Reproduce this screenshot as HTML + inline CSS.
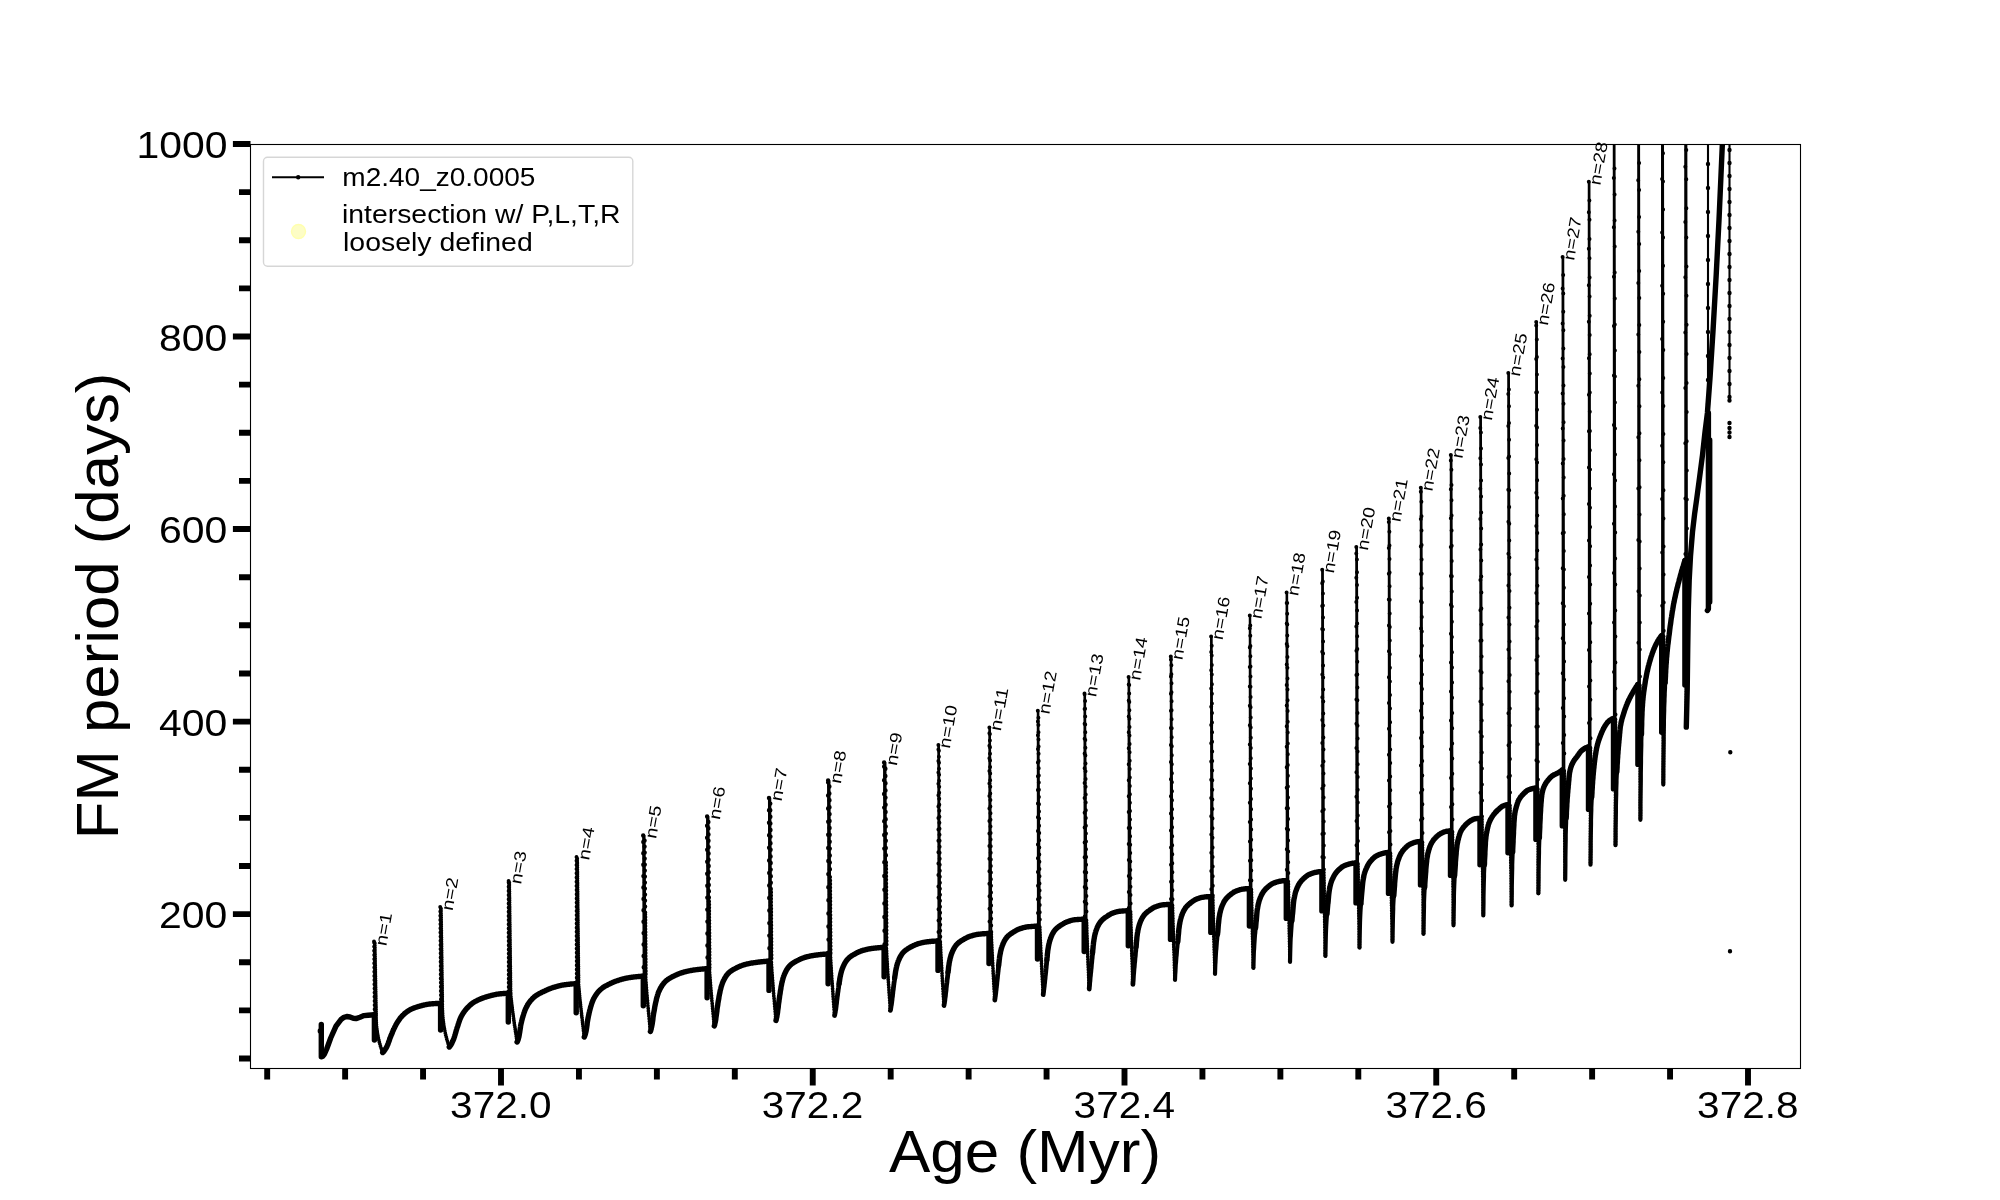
<!DOCTYPE html>
<html><head><meta charset="utf-8"><title>FM period vs Age</title>
<style>html,body{margin:0;padding:0;background:#fff;}body{width:2000px;height:1200px;overflow:hidden;font-family:"Liberation Sans",sans-serif;}</style></head>
<body>
<svg width="2000" height="1200" viewBox="0 0 2000 1200" style="display:block;will-change:transform" font-family="'Liberation Sans', sans-serif" fill="#000">
<rect x="0" y="0" width="2000" height="1200" fill="#fff"/>
<defs><clipPath id="ax"><rect x="250" y="144" width="1550" height="924"/></clipPath></defs>
<g clip-path="url(#ax)" fill="none" stroke="#000" stroke-linejoin="round" stroke-linecap="round">
<g stroke-width="2.1">
<polyline points="374.9,1040.1 374.0,941.5"/>
<polyline points="374.0,941.5 374.7,942.0 376.1,1014.8 376.1,1017.9 376.2,1021.1 376.4,1024.2 376.7,1027.4 377.1,1030.5 377.5,1033.7 378.1,1036.8 378.8,1039.9 379.6,1043.1 380.5,1046.2 381.6,1049.4 382.7,1052.5"/>
<polyline points="441.1,1030.1 440.2,907.0"/>
<polyline points="440.2,907.0 440.9,907.5 442.3,1003.4 442.3,1007.0 442.4,1010.7 442.6,1014.3 442.9,1017.9 443.3,1021.6 443.8,1025.2 444.4,1028.8 445.2,1032.5 446.0,1036.1 447.0,1039.7 448.1,1043.4 449.3,1047.0"/>
<polyline points="508.8,1022.0 508.6,880.9"/>
<polyline points="508.6,880.9 509.2,881.4 510.6,993.3 511.0,997.4 511.4,1001.4 511.9,1005.5 512.4,1009.5 513.0,1013.6 513.5,1017.6 514.1,1021.7 514.7,1025.8 515.3,1029.8 515.9,1033.9 516.5,1037.9 517.1,1042.0"/>
<polyline points="576.8,1012.8 576.5,856.9"/>
<polyline points="576.5,856.9 577.2,857.4 578.5,983.8 578.9,988.2 579.3,992.6 579.7,997.1 580.2,1001.5 580.7,1005.9 581.1,1010.4 581.6,1014.8 582.2,1019.2 582.7,1023.7 583.2,1028.1 583.8,1032.6 584.3,1037.0"/>
<polyline points="643.8,1005.7 643.2,835.5"/>
<polyline points="643.2,835.5 644.5,836.0 645.6,976.2 645.9,980.8 646.2,985.4 646.6,990.0 647.0,994.6 647.4,999.2 647.8,1003.8 648.2,1008.4 648.6,1013.0 649.0,1017.6 649.5,1022.2 649.9,1026.8 650.4,1031.4"/>
<polyline points="707.6,997.8 707.1,816.5"/>
<polyline points="707.1,816.5 708.4,817.0 709.4,968.8 709.7,973.5 710.0,978.3 710.4,983.1 710.8,987.8 711.2,992.6 711.6,997.4 712.0,1002.1 712.5,1006.9 712.9,1011.7 713.4,1016.5 713.8,1021.2 714.3,1026.0"/>
<polyline points="769.5,990.4 769.0,797.9"/>
<polyline points="769.0,797.9 770.2,798.4 771.3,961.2 771.6,966.1 771.9,971.1 772.3,976.0 772.6,981.0 773.0,985.9 773.4,990.9 773.8,995.8 774.2,1000.7 774.7,1005.7 775.1,1010.6 775.6,1015.6 776.0,1020.5"/>
<polyline points="828.6,983.8 828.1,780.5"/>
<polyline points="828.1,780.5 829.4,781.0 830.4,954.0 830.6,959.1 830.9,964.2 831.3,969.4 831.6,974.5 831.9,979.6 832.3,984.8 832.7,989.9 833.0,995.0 833.4,1000.1 833.8,1005.2 834.2,1010.4 834.6,1015.5"/>
<polyline points="884.6,976.8 884.1,762.5"/>
<polyline points="884.1,762.5 885.4,763.0 886.4,947.4 886.6,952.6 886.9,957.9 887.2,963.1 887.5,968.4 887.9,973.6 888.2,978.8 888.6,984.1 888.9,989.3 889.3,994.6 889.6,999.8 890.0,1005.1 890.4,1010.3"/>
<polyline points="938.5,970.4 938.4,744.9"/>
<polyline points="938.4,744.9 938.9,745.4 940.3,941.0 940.5,946.4 940.8,951.8 941.1,957.1 941.3,962.5 941.7,967.9 942.0,973.3 942.3,978.7 942.6,984.1 943.0,989.5 943.3,994.8 943.6,1000.2 944.0,1005.6"/>
<polyline points="989.5,963.6 989.4,727.6"/>
<polyline points="989.4,727.6 989.9,728.1 991.3,933.5 991.5,939.0 991.7,944.6 992.0,950.1 992.3,955.7 992.6,961.2 992.9,966.8 993.2,972.3 993.5,977.8 993.8,983.4 994.1,988.9 994.5,994.5 994.8,1000.0"/>
<polyline points="1038.0,959.1 1037.8,710.8"/>
<polyline points="1037.8,710.8 1038.3,711.3 1039.8,926.2 1040.0,932.0 1040.2,937.7 1040.5,943.4 1040.8,949.1 1041.0,954.8 1041.3,960.5 1041.6,966.2 1041.9,971.9 1042.2,977.6 1042.6,983.3 1042.9,989.0 1043.2,994.7"/>
<polyline points="1084.7,951.6 1084.5,693.4"/>
<polyline points="1084.5,693.4 1085.0,693.9 1086.5,919.3 1086.7,925.1 1086.8,930.9 1087.0,936.7 1087.3,942.5 1087.5,948.3 1087.7,954.1 1088.0,960.0 1088.2,965.8 1088.4,971.6 1088.7,977.4 1088.9,983.2 1089.2,989.0"/>
<polyline points="1128.8,945.7 1128.6,676.9"/>
<polyline points="1128.6,676.9 1129.1,677.4 1130.6,910.8 1130.7,916.9 1130.9,923.1 1131.1,929.2 1131.3,935.3 1131.4,941.5 1131.6,947.6 1131.8,953.7 1132.0,959.9 1132.3,966.0 1132.5,972.1 1132.7,978.3 1132.9,984.4"/>
<polyline points="1171.0,939.4 1170.8,656.4"/>
<polyline points="1170.8,656.4 1171.3,656.9 1172.5,904.4 1172.6,910.7 1172.8,917.0 1173.0,923.3 1173.2,929.6 1173.4,935.9 1173.6,942.1 1173.8,948.4 1174.1,954.7 1174.3,961.0 1174.5,967.3 1174.8,973.6 1175.0,979.9"/>
<polyline points="1211.3,932.4 1211.1,636.4"/>
<polyline points="1211.1,636.4 1211.6,636.9 1212.8,896.6 1212.9,903.0 1213.1,909.5 1213.2,915.9 1213.4,922.4 1213.6,928.8 1213.8,935.2 1214.0,941.7 1214.2,948.1 1214.4,954.6 1214.6,961.0 1214.8,967.5 1215.0,973.9"/>
<polyline points="1249.9,926.1 1249.8,615.6"/>
<polyline points="1249.8,615.6 1250.2,616.1 1251.4,888.6 1251.5,895.2 1251.7,901.8 1251.8,908.4 1252.0,915.0 1252.1,921.6 1252.3,928.2 1252.5,934.9 1252.7,941.5 1252.8,948.1 1253.0,954.7 1253.2,961.3 1253.4,967.9"/>
<polyline points="1286.8,918.4 1286.6,592.4"/>
<polyline points="1286.6,592.4 1287.1,592.9 1288.3,880.6 1288.4,887.4 1288.5,894.1 1288.6,900.9 1288.8,907.7 1288.9,914.5 1289.1,921.2 1289.2,928.0 1289.4,934.8 1289.5,941.6 1289.7,948.4 1289.8,955.1 1290.0,961.9"/>
<polyline points="1322.4,910.9 1322.2,569.7"/>
<polyline points="1322.2,569.7 1322.8,570.2 1323.9,871.6 1324.0,878.6 1324.1,885.6 1324.2,892.7 1324.3,899.7 1324.4,906.7 1324.6,913.8 1324.7,920.8 1324.8,927.8 1325.0,934.8 1325.1,941.9 1325.3,948.9 1325.4,955.9"/>
<polyline points="1356.5,902.9 1356.3,546.9"/>
<polyline points="1356.3,546.9 1356.9,547.4 1358.0,863.0 1358.1,870.0 1358.2,877.1 1358.3,884.1 1358.4,891.2 1358.5,898.2 1358.7,905.3 1358.8,912.4 1358.9,919.4 1359.1,926.5 1359.2,933.5 1359.4,940.5 1359.5,947.6"/>
<polyline points="1389.0,893.4 1388.8,518.5"/>
<polyline points="1388.8,518.5 1389.4,519.0 1390.5,852.5 1390.6,859.9 1390.8,867.4 1390.9,874.8 1391.1,882.3 1391.2,889.7 1391.4,897.1 1391.6,904.6 1391.8,912.0 1391.9,919.5 1392.1,926.9 1392.3,934.4 1392.5,941.8"/>
<polyline points="1421.0,884.9 1420.8,487.7"/>
<polyline points="1420.8,487.7 1421.4,488.2 1422.5,841.5 1422.6,849.2 1422.6,856.9 1422.7,864.6 1422.8,872.3 1422.9,880.0 1423.0,887.6 1423.0,895.3 1423.1,903.0 1423.2,910.7 1423.3,918.4 1423.4,926.1 1423.5,933.8"/>
<polyline points="1451.0,875.4 1450.8,454.9"/>
<polyline points="1450.8,454.9 1451.4,455.4 1452.5,831.0 1452.6,838.9 1452.6,846.7 1452.7,854.6 1452.8,862.4 1452.9,870.3 1453.0,878.1 1453.0,886.0 1453.1,893.9 1453.2,901.7 1453.3,909.6 1453.4,917.4 1453.5,925.3"/>
<polyline points="1480.5,864.7 1480.3,416.9"/>
<polyline points="1480.3,416.9 1480.9,417.4 1482.0,818.4 1482.1,826.5 1482.2,834.6 1482.3,842.7 1482.4,850.8 1482.5,858.9 1482.6,867.0 1482.7,875.0 1482.8,883.1 1482.9,891.2 1483.1,899.3 1483.2,907.4 1483.3,915.5"/>
<polyline points="1508.5,852.7 1508.3,372.9"/>
<polyline points="1508.3,372.9 1508.9,373.4 1510.0,804.6 1510.1,813.0 1510.2,821.4 1510.3,829.8 1510.5,838.2 1510.6,846.6 1510.7,855.0 1510.9,863.5 1511.0,871.9 1511.1,880.3 1511.3,888.7 1511.4,897.1 1511.6,905.5"/>
<polyline points="1536.4,839.4 1536.2,322.1"/>
<polyline points="1536.2,322.1 1536.8,322.6 1537.9,788.2 1537.9,797.0 1538.0,805.7 1538.0,814.5 1538.0,823.2 1538.1,832.0 1538.1,840.8 1538.2,849.5 1538.2,858.3 1538.3,867.0 1538.3,875.8 1538.4,884.5 1538.4,893.3"/>
<polyline points="1562.8,825.9 1562.6,256.9"/>
<polyline points="1562.6,256.9 1563.2,257.4 1564.3,770.0 1564.4,779.1 1564.4,788.3 1564.5,797.5 1564.6,806.6 1564.6,815.8 1564.7,824.9 1564.8,834.0 1564.9,843.2 1564.9,852.3 1565.0,861.5 1565.1,870.6 1565.2,879.8"/>
<polyline points="1589.0,809.4 1588.8,181.7"/>
<polyline points="1588.8,181.7 1589.4,182.2 1590.5,747.0 1590.5,756.8 1590.5,766.6 1590.5,776.4 1590.5,786.2 1590.5,796.0 1590.5,805.9 1590.5,815.7 1590.5,825.5 1590.5,835.3 1590.5,845.1 1590.5,854.9 1590.5,864.7"/>
<polyline points="1614.0,788.9 1613.8,90.9"/>
<polyline points="1613.8,90.9 1614.4,91.4 1615.5,718.5 1615.5,729.1 1615.5,739.6 1615.5,750.2 1615.5,760.7 1615.5,771.3 1615.5,781.9 1615.5,792.4 1615.5,803.0 1615.5,813.5 1615.5,824.1 1615.5,834.6 1615.5,845.2"/>
<polyline points="1638.4,764.4 1638.2,0.9"/>
<polyline points="1638.2,0.9 1638.8,1.4 1639.9,684.5 1639.9,695.8 1640.0,707.0 1640.0,718.3 1640.0,729.6 1640.1,740.9 1640.1,752.1 1640.2,763.4 1640.2,774.7 1640.3,786.0 1640.3,797.2 1640.4,808.5 1640.4,819.8"/>
<polyline points="1662.2,732.2 1662.0,-99.1"/>
<polyline points="1662.0,-99.1 1662.6,-98.6 1663.7,635.6 1663.7,648.0 1663.6,660.4 1663.6,672.9 1663.6,685.3 1663.6,697.7 1663.5,710.1 1663.5,722.5 1663.4,734.9 1663.4,747.4 1663.4,759.8 1663.3,772.2 1663.3,784.6"/>
<polyline points="1685.4,685.0 1685.2,-199.1"/>
<polyline points="1685.2,-199.1 1685.8,-198.6 1686.9,560.6 1686.9,574.5 1686.8,588.4 1686.8,602.2 1686.7,616.1 1686.7,630.0 1686.6,643.9 1686.6,657.7 1686.5,671.6 1686.5,685.5 1686.4,699.4 1686.4,713.2 1686.3,727.1"/>
<polyline points="1708.0,413.0 1708.0,120.0"/>
<polyline points="1729.5,120.0 1729.5,400.5"/>
</g>
<g stroke-width="4.8">
<polyline points="834.6,1015.5 834.8,1014.7 834.9,1013.9 835.1,1013.0 835.3,1012.1 835.4,1011.1 835.6,1010.1 835.8,1009.1 835.9,1008.0 836.1,1006.7 836.2,1005.4 836.4,1004.1 836.6,1002.7 836.7,1001.3 836.9,999.8 837.1,998.4 837.2,997.1 837.4,995.8 837.6,994.6 837.7,993.3 837.9,992.1 838.1,990.9 838.2,989.7 838.4,988.5 838.6,987.3 838.7,986.1 838.9,984.9 839.1,983.8"/>
<polyline points="890.4,1010.3 890.6,1009.4 890.7,1008.6 890.9,1007.6 891.0,1006.6 891.2,1005.6 891.4,1004.6 891.5,1003.5 891.7,1002.4 891.8,1001.2 892.0,999.9 892.1,998.5 892.3,997.2 892.5,995.8 892.6,994.4 892.8,993.1 892.9,991.7 893.1,990.4 893.3,989.2 893.4,987.9 893.6,986.7 893.7,985.5 893.9,984.2 894.0,983.0 894.2,981.8 894.4,980.5 894.5,979.3 894.7,978.0"/>
<polyline points="944.0,1005.6 944.1,1004.6 944.3,1003.7 944.5,1002.6 944.6,1001.6 944.8,1000.5 944.9,999.4 945.0,998.3 945.2,997.1 945.4,995.9 945.5,994.6 945.6,993.3 945.8,991.9 946.0,990.5 946.1,989.2 946.2,987.8 946.4,986.4 946.5,985.1 946.7,983.8 946.9,982.5 947.0,981.3 947.1,980.0 947.3,978.7 947.5,977.4 947.6,976.1 947.8,974.8 947.9,973.4 948.0,972.1"/>
<polyline points="994.8,1000.0 994.9,999.0 995.1,997.9 995.2,996.8 995.4,995.7 995.5,994.6 995.7,993.4 995.8,992.2 995.9,991.0 996.1,989.8 996.2,988.5 996.4,987.2 996.5,985.9 996.7,984.6 996.8,983.3 996.9,981.9 997.1,980.6 997.2,979.3 997.4,977.9 997.5,976.6 997.6,975.3 997.8,974.0 997.9,972.7 998.1,971.4 998.2,970.0 998.4,968.6 998.5,967.2 998.6,965.8"/>
<polyline points="1043.2,994.7 1043.3,993.6 1043.5,992.4 1043.6,991.2 1043.7,990.1 1043.9,988.9 1044.0,987.7 1044.2,986.5 1044.3,985.3 1044.4,984.0 1044.6,982.8 1044.7,981.5 1044.8,980.3 1045.0,979.0 1045.1,977.7 1045.2,976.3 1045.4,975.0 1045.5,973.7 1045.7,972.3 1045.8,971.0 1045.9,969.7 1046.1,968.3 1046.2,967.0 1046.3,965.6 1046.5,964.2 1046.6,962.8 1046.8,961.3 1046.9,959.8"/>
<polyline points="1089.2,989.0 1089.3,987.4 1089.5,985.8 1089.6,984.2 1089.7,982.7 1089.9,981.2 1090.0,979.8 1090.1,978.4 1090.2,977.1 1090.4,975.7 1090.5,974.4 1090.6,973.1 1090.8,971.8 1090.9,970.5 1091.0,969.2 1091.2,967.8 1091.3,966.5 1091.4,965.1 1091.5,963.8 1091.7,962.4 1091.8,961.1 1091.9,959.7 1092.1,958.4 1092.2,957.1 1092.3,955.7 1092.5,954.2 1092.6,952.8"/>
<polyline points="1132.9,984.4 1133.0,982.3 1133.2,980.2 1133.3,978.2 1133.4,976.3 1133.5,974.6 1133.7,972.9 1133.8,971.4 1133.9,970.0 1134.0,968.6 1134.2,967.2 1134.3,965.9 1134.4,964.6 1134.5,963.2 1134.7,961.9 1134.8,960.6 1134.9,959.2 1135.0,957.9 1135.2,956.5 1135.3,955.2 1135.4,953.8 1135.5,952.5 1135.7,951.2 1135.8,949.9 1135.9,948.6 1136.0,947.2"/>
</g>
<g stroke-width="4.2">
<polyline points="1175.0,979.9 1175.1,977.3 1175.2,974.7 1175.4,972.2 1175.5,969.9 1175.6,967.8 1175.7,965.9 1175.8,964.2 1176.0,962.6 1176.1,961.1 1176.2,959.7 1176.3,958.3 1176.4,956.9 1176.6,955.5 1176.7,954.2 1176.8,952.8 1176.9,951.4 1177.0,950.0 1177.1,948.7 1177.3,947.3 1177.4,946.0 1177.5,944.7 1177.6,943.4 1177.7,942.1"/>
<polyline points="1215.0,973.9 1215.1,970.7 1215.2,967.6 1215.3,964.7 1215.5,962.0 1215.6,959.5 1215.7,957.4 1215.8,955.6 1215.9,953.9 1216.0,952.3 1216.1,950.8 1216.3,949.3 1216.4,947.9 1216.5,946.5 1216.6,945.2 1216.7,943.8 1216.8,942.4 1216.9,941.1 1217.1,939.7 1217.2,938.4 1217.3,937.1 1217.4,935.8 1217.5,934.5"/>
<polyline points="1253.4,967.9 1253.5,964.2 1253.6,960.5 1253.7,957.1 1253.8,954.0 1253.9,951.2 1254.1,948.8 1254.2,946.8 1254.3,945.0 1254.4,943.3 1254.5,941.8 1254.6,940.3 1254.7,938.8 1254.8,937.4 1254.9,936.1 1255.0,934.7 1255.2,933.3 1255.3,932.0 1255.4,930.6 1255.5,929.3 1255.6,928.0"/>
<polyline points="1290.0,961.9 1290.1,957.5 1290.2,953.3 1290.3,949.3 1290.4,945.7 1290.5,942.5 1290.6,939.9 1290.7,937.7 1290.9,935.8 1291.0,934.0 1291.1,932.3 1291.2,930.8 1291.3,929.3 1291.4,927.9 1291.5,926.5 1291.6,925.1 1291.7,923.7 1291.8,922.3 1291.9,921.0"/>
<polyline points="1325.4,955.9 1325.5,950.9 1325.6,946.0 1325.7,941.5 1325.8,937.4 1325.9,933.8 1326.0,930.9 1326.1,928.6 1326.2,926.5 1326.3,924.6 1326.4,922.8 1326.5,921.2 1326.6,919.7 1326.7,918.3 1326.8,916.9 1326.9,915.5 1327.0,914.1"/>
<polyline points="1359.5,947.6 1359.6,941.9 1359.7,936.5 1359.8,931.4 1359.9,926.8 1360.0,922.8 1360.1,919.6 1360.2,917.1 1360.3,914.9 1360.4,912.9 1360.5,911.0 1360.6,909.4 1360.7,907.9 1360.8,906.4 1360.9,905.0 1361.0,903.6"/>
<polyline points="1392.5,941.8 1392.6,935.8 1392.7,930.0 1392.8,924.6 1392.9,919.7 1393.0,915.5 1393.1,911.9 1393.2,909.1 1393.2,906.7 1393.3,904.5 1393.4,902.5 1393.5,900.7 1393.6,899.0 1393.7,897.4 1393.8,895.9"/>
<polyline points="1423.5,933.8 1423.6,927.7 1423.7,921.7 1423.8,916.2 1423.9,911.1 1424.0,906.6 1424.0,902.8 1424.1,899.8 1424.2,897.2 1424.3,894.9 1424.4,892.7 1424.5,890.8 1424.6,889.0 1424.7,887.3"/>
<polyline points="1453.5,925.3 1453.6,918.9 1453.7,912.7 1453.8,906.9 1453.9,901.5 1453.9,896.7 1454.0,892.7 1454.1,889.4 1454.2,886.6 1454.3,884.1 1454.4,881.8 1454.5,879.7 1454.6,877.7 1454.6,875.9"/>
<polyline points="1483.3,915.5 1483.4,909.3 1483.5,903.3 1483.5,897.6 1483.6,892.3 1483.7,887.5 1483.8,883.3 1483.9,879.6 1484.0,876.6 1484.0,873.8 1484.1,871.3 1484.2,869.0 1484.3,866.9 1484.4,864.9"/>
<polyline points="1511.6,905.5 1511.7,899.2 1511.8,893.1 1511.8,887.2 1511.9,881.7 1512.0,876.6 1512.1,872.1 1512.2,868.2 1512.2,864.9 1512.3,861.8 1512.4,859.0 1512.5,856.4 1512.6,854.0 1512.7,851.7"/>
<polyline points="1538.4,893.3 1538.5,886.4 1538.6,879.7 1538.6,873.3 1538.7,867.3 1538.8,861.8 1538.9,856.9 1539.0,852.6 1539.0,849.0 1539.1,845.8 1539.2,842.8 1539.3,840.1 1539.4,837.6"/>
<polyline points="1565.2,879.8 1565.3,872.2 1565.4,864.8 1565.4,857.7 1565.5,851.0 1565.6,845.0 1565.7,839.6 1565.7,835.0 1565.8,831.4 1565.9,828.3 1566.0,825.4 1566.1,822.8 1566.1,820.4 1566.2,818.1"/>
<polyline points="1590.5,864.7 1590.6,857.1 1590.7,849.7 1590.7,842.6 1590.8,835.9 1590.9,829.8 1591.0,824.5 1591.0,819.9 1591.1,816.2 1591.2,813.2 1591.3,810.3 1591.3,807.7 1591.4,805.3 1591.5,803.1 1591.6,801.1 1591.7,799.2 1591.7,797.4"/>
<polyline points="1615.5,845.2 1615.6,838.0 1615.6,830.9 1615.7,824.1 1615.8,817.7 1615.9,811.8 1615.9,806.4 1616.0,801.6 1616.1,797.6 1616.2,794.2 1616.2,791.0 1616.3,788.1 1616.4,785.3 1616.5,782.7 1616.5,780.2 1616.6,778.0 1616.7,775.9 1616.8,773.9 1616.8,772.1"/>
<polyline points="1640.4,819.8 1640.5,811.5 1640.5,803.4 1640.6,795.4 1640.7,787.8 1640.8,780.7 1640.8,774.0 1640.9,767.9 1641.0,762.5 1641.0,757.9 1641.1,753.5 1641.2,749.3 1641.3,745.3 1641.3,741.3 1641.4,737.6 1641.5,734.0"/>
<polyline points="1663.3,784.6 1663.4,775.4 1663.4,766.5 1663.5,757.9 1663.6,749.7 1663.7,742.2 1663.7,735.4 1663.8,729.4 1663.9,724.4 1663.9,720.4 1664.0,717.0 1664.1,713.7 1664.2,710.8 1664.2,708.1 1664.3,705.6 1664.4,703.2 1664.5,701.1 1664.5,699.0 1664.6,697.1 1664.7,695.2 1664.7,693.3 1664.8,691.5 1664.9,689.7 1665.0,687.9 1665.0,686.1 1665.1,684.3 1665.2,682.6"/>
</g>
<g stroke-width="5.4">
<polyline points="321.3,1024.5 321.3,1056.8 322.5,1056.5 324.5,1054.0 326.7,1049.0 330.7,1038.0 336.0,1026.2 341.3,1019.2 344.0,1017.3 346.7,1016.5 350.0,1017.0 353.3,1018.3 356.0,1018.6 360.0,1017.2 364.0,1015.6 368.0,1015.2 374.4,1014.8"/>
<polyline points="320.3,1031.0 321.3,1031.0"/>
<polyline points="374.4,1014.8 374.4,1040.1"/>
<polyline points="382.7,1052.5 382.9,1052.3 383.1,1052.2 383.3,1052.0 383.5,1051.8 383.7,1051.5 383.9,1051.3 384.1,1051.1 384.2,1050.8 384.4,1050.6 384.6,1050.3 384.8,1050.0 385.0,1049.7 385.2,1049.4 385.4,1049.1 385.6,1048.8 385.8,1048.5 386.0,1048.2 386.2,1047.8 386.4,1047.5 386.6,1047.1 386.8,1046.8 386.9,1046.4 387.1,1046.0 387.3,1045.6 387.5,1045.1 387.7,1044.7 387.9,1044.2 388.1,1043.7 388.3,1043.1 388.5,1042.6 388.7,1042.1 388.9,1041.5 389.1,1041.0 389.3,1040.4 389.5,1039.9 389.6,1039.3 389.8,1038.8 390.0,1038.2 390.2,1037.7 390.4,1037.2 390.6,1036.7 390.8,1036.2 391.0,1035.8 391.2,1035.3 391.4,1034.8 391.6,1034.4 391.8,1033.9 392.0,1033.4 392.2,1033.0 392.4,1032.5 392.5,1032.0 392.7,1031.6 392.9,1031.1 393.1,1030.7 393.3,1030.2 393.5,1029.8 393.7,1029.3 393.9,1028.9 394.1,1028.5 394.3,1028.1 394.9,1026.8 395.5,1025.7 396.0,1024.6 396.6,1023.6 397.2,1022.6 397.8,1021.7 398.4,1020.8 399.0,1019.9 399.6,1019.1 400.1,1018.3 400.7,1017.6 401.3,1016.9 401.9,1016.2 402.5,1015.6 403.1,1015.0 403.7,1014.5 404.2,1013.9 404.8,1013.4 405.4,1012.9 406.0,1012.5 406.6,1012.0 407.2,1011.6 407.8,1011.2 408.4,1010.8 408.9,1010.4 409.5,1010.1 410.1,1009.7 410.7,1009.4 411.3,1009.2 411.9,1008.9 412.5,1008.6 413.0,1008.4 413.6,1008.1 414.2,1007.9 414.8,1007.7 415.4,1007.5 416.0,1007.3 416.6,1007.1 417.1,1006.9 417.7,1006.7 418.3,1006.5 418.9,1006.4 419.5,1006.2 420.1,1006.0 420.7,1005.9 421.3,1005.7 421.8,1005.6 422.4,1005.4 423.0,1005.3 423.6,1005.1 424.2,1005.0 424.8,1004.8 425.4,1004.7 425.9,1004.6 426.5,1004.5 427.1,1004.4 427.7,1004.3 428.3,1004.2 428.9,1004.1 429.5,1004.0 430.0,1004.0 430.6,1003.9 431.2,1003.9 431.8,1003.8 432.4,1003.8 433.0,1003.7 433.6,1003.7 434.2,1003.6 434.7,1003.6 435.3,1003.6 435.9,1003.5 436.5,1003.5 437.1,1003.5 437.7,1003.5 438.3,1003.4 438.8,1003.4 439.4,1003.4 440.0,1003.4 440.6,1003.4"/>
<polyline points="440.6,1003.4 440.6,1030.1"/>
<polyline points="449.3,1047.0 449.5,1046.8 449.7,1046.6 449.9,1046.3 450.1,1046.1 450.3,1045.8 450.5,1045.5 450.7,1045.2 450.9,1044.9 451.1,1044.5 451.3,1044.2 451.5,1043.8 451.7,1043.5 451.9,1043.1 452.1,1042.7 452.2,1042.3 452.4,1041.9 452.6,1041.5 452.8,1041.0 453.0,1040.6 453.2,1040.2 453.4,1039.7 453.6,1039.2 453.8,1038.7 454.0,1038.1 454.2,1037.5 454.4,1036.9 454.6,1036.3 454.8,1035.6 455.0,1034.9 455.2,1034.3 455.4,1033.6 455.6,1032.9 455.8,1032.2 456.0,1031.5 456.2,1030.8 456.4,1030.1 456.6,1029.4 456.8,1028.8 457.0,1028.1 457.2,1027.5 457.4,1026.9 457.6,1026.4 457.8,1025.8 458.0,1025.2 458.2,1024.6 458.3,1024.0 458.5,1023.4 458.7,1022.9 458.9,1022.3 459.1,1021.7 459.3,1021.2 459.5,1020.6 459.7,1020.1 459.9,1019.6 460.1,1019.1 460.3,1018.6 460.5,1018.1 460.7,1017.6 460.9,1017.2 461.1,1016.8 461.7,1015.6 462.3,1014.6 462.9,1013.6 463.5,1012.7 464.1,1011.8 464.7,1011.0 465.3,1010.2 465.9,1009.5 466.5,1008.8 467.1,1008.1 467.7,1007.5 468.3,1006.9 468.9,1006.3 469.5,1005.7 470.1,1005.1 470.7,1004.6 471.3,1004.1 471.9,1003.6 472.5,1003.2 473.0,1002.8 473.6,1002.4 474.2,1002.1 474.8,1001.7 475.4,1001.4 476.0,1001.1 476.6,1000.8 477.2,1000.4 477.8,1000.2 478.4,999.9 479.0,999.6 479.6,999.3 480.2,999.1 480.8,998.8 481.4,998.6 482.0,998.3 482.6,998.1 483.2,997.9 483.8,997.7 484.4,997.5 485.0,997.3 485.6,997.1 486.2,996.9 486.8,996.7 487.4,996.5 488.0,996.4 488.6,996.2 489.2,996.0 489.8,995.9 490.4,995.7 491.0,995.5 491.6,995.4 492.2,995.2 492.8,995.1 493.4,995.0 494.0,994.8 494.6,994.7 495.2,994.6 495.8,994.5 496.4,994.3 496.9,994.2 497.5,994.1 498.1,994.1 498.7,994.0 499.3,993.9 499.9,993.8 500.5,993.8 501.1,993.7 501.7,993.7 502.3,993.6 502.9,993.6 503.5,993.5 504.1,993.5 504.7,993.4 505.3,993.4 505.9,993.4 506.5,993.3 507.1,993.3 507.7,993.3 508.3,993.3"/>
<polyline points="508.3,993.3 508.3,1022.0"/>
<polyline points="517.1,1042.0 517.3,1041.7 517.5,1041.3 517.7,1040.8 517.9,1040.2 518.1,1039.7 518.3,1039.0 518.5,1038.3 518.7,1037.6 518.9,1036.8 519.1,1035.8 519.3,1034.6 519.5,1033.4 519.7,1032.2 519.9,1030.9 520.1,1029.6 520.3,1028.3 520.5,1027.1 520.6,1026.0 520.8,1025.0 521.0,1024.0 521.2,1023.1 521.4,1022.3 521.6,1021.4 521.8,1020.6 522.0,1019.8 522.2,1019.0 522.4,1018.3 522.6,1017.6 522.8,1016.9 523.0,1016.2 523.2,1015.6 523.4,1014.9 523.6,1014.3 523.8,1013.6 524.0,1013.0 524.2,1012.4 524.4,1011.9 524.6,1011.3 524.8,1010.7 525.0,1010.2 525.2,1009.7 525.4,1009.2 525.6,1008.8 525.8,1008.4 526.0,1008.0 526.2,1007.6 526.4,1007.2 526.6,1006.8 526.8,1006.5 527.0,1006.1 527.2,1005.7 527.4,1005.4 527.5,1005.1 527.7,1004.8 527.9,1004.4 528.1,1004.1 528.3,1003.8 528.5,1003.5 528.7,1003.2 528.9,1002.9 529.5,1002.1 530.1,1001.3 530.7,1000.6 531.3,999.9 531.9,999.3 532.5,998.6 533.1,998.0 533.7,997.5 534.3,996.9 534.9,996.4 535.5,996.0 536.1,995.6 536.7,995.2 537.3,994.8 537.9,994.4 538.5,994.1 539.1,993.7 539.7,993.4 540.3,993.1 540.9,992.8 541.5,992.5 542.1,992.2 542.7,991.9 543.3,991.6 543.9,991.4 544.5,991.1 545.1,990.8 545.7,990.5 546.3,990.2 546.9,990.0 547.5,989.7 548.1,989.4 548.7,989.2 549.3,988.9 549.9,988.7 550.5,988.5 551.1,988.2 551.7,988.0 552.3,987.8 552.9,987.6 553.5,987.4 554.1,987.2 554.7,987.1 555.3,986.9 555.9,986.7 556.5,986.5 557.1,986.4 557.7,986.2 558.3,986.0 558.9,985.9 559.5,985.7 560.1,985.6 560.7,985.5 561.3,985.3 561.9,985.2 562.5,985.1 563.1,985.0 563.7,984.9 564.3,984.8 564.9,984.8 565.5,984.7 566.1,984.6 566.7,984.5 567.3,984.4 567.9,984.4 568.5,984.3 569.1,984.2 569.7,984.2 570.3,984.1 570.9,984.0 571.5,984.0 572.1,983.9 572.7,983.9 573.3,983.9 573.9,983.8 574.5,983.8 575.1,983.8 575.7,983.8 576.2,983.8"/>
<polyline points="576.2,983.8 576.2,1012.8"/>
<polyline points="584.3,1037.0 584.5,1036.6 584.7,1036.1 584.9,1035.5 585.1,1034.9 585.3,1034.2 585.5,1033.5 585.7,1032.7 585.9,1031.9 586.1,1030.9 586.3,1029.8 586.5,1028.5 586.7,1027.3 586.9,1025.9 587.1,1024.6 587.2,1023.2 587.4,1021.9 587.6,1020.7 587.8,1019.5 588.0,1018.4 588.2,1017.4 588.4,1016.5 588.6,1015.5 588.8,1014.6 589.0,1013.6 589.2,1012.7 589.4,1011.9 589.6,1011.0 589.8,1010.2 590.0,1009.5 590.2,1008.7 590.4,1008.0 590.6,1007.3 590.8,1006.6 591.0,1005.9 591.2,1005.3 591.4,1004.6 591.6,1004.0 591.8,1003.4 592.0,1002.8 592.2,1002.3 592.4,1001.7 592.6,1001.2 592.8,1000.7 593.0,1000.3 593.1,999.9 593.3,999.4 593.5,999.1 593.7,998.7 593.9,998.3 594.1,997.9 594.3,997.6 594.5,997.2 594.7,996.9 594.9,996.5 595.1,996.2 595.3,995.9 595.5,995.6 595.7,995.3 595.9,995.0 596.1,994.7 596.7,993.8 597.3,993.0 597.9,992.3 598.5,991.6 599.1,990.9 599.7,990.3 600.3,989.7 600.9,989.2 601.5,988.7 602.1,988.2 602.7,987.7 603.3,987.3 603.9,987.0 604.5,986.6 605.1,986.2 605.7,985.9 606.3,985.6 606.9,985.3 607.5,985.0 608.0,984.7 608.6,984.4 609.2,984.1 609.8,983.8 610.4,983.5 611.0,983.2 611.6,983.0 612.2,982.7 612.8,982.4 613.4,982.2 614.0,981.9 614.6,981.7 615.2,981.4 615.8,981.2 616.4,981.0 617.0,980.8 617.6,980.6 618.2,980.4 618.8,980.2 619.4,980.0 620.0,979.8 620.6,979.6 621.2,979.5 621.8,979.3 622.4,979.1 623.0,979.0 623.6,978.8 624.2,978.7 624.8,978.5 625.4,978.4 626.0,978.2 626.6,978.1 627.2,978.0 627.8,977.9 628.4,977.8 629.0,977.7 629.6,977.6 630.2,977.5 630.8,977.4 631.4,977.3 631.9,977.2 632.5,977.2 633.1,977.1 633.7,977.0 634.3,976.9 634.9,976.9 635.5,976.8 636.1,976.7 636.7,976.7 637.3,976.6 637.9,976.6 638.5,976.5 639.1,976.5 639.7,976.4 640.3,976.4 640.9,976.3 641.5,976.3 642.1,976.3 642.7,976.3 643.3,976.2"/>
<polyline points="643.3,976.2 643.3,1005.7"/>
<polyline points="650.4,1031.4 650.6,1030.9 650.8,1030.3 651.0,1029.6 651.2,1028.9 651.3,1028.2 651.5,1027.3 651.7,1026.5 651.9,1025.5 652.1,1024.4 652.3,1023.2 652.5,1021.9 652.7,1020.5 652.9,1019.1 653.0,1017.7 653.2,1016.3 653.4,1015.0 653.6,1013.7 653.8,1012.6 654.0,1011.5 654.2,1010.4 654.4,1009.3 654.6,1008.3 654.7,1007.2 654.9,1006.2 655.1,1005.3 655.3,1004.3 655.5,1003.4 655.7,1002.5 655.9,1001.6 656.1,1000.8 656.3,1000.0 656.4,999.2 656.6,998.5 656.8,997.8 657.0,997.1 657.2,996.4 657.4,995.8 657.6,995.1 657.8,994.5 658.0,993.9 658.1,993.4 658.3,992.8 658.5,992.3 658.7,991.9 658.9,991.4 659.1,991.0 659.3,990.6 659.5,990.2 659.7,989.8 659.9,989.4 660.0,989.0 660.2,988.7 660.4,988.3 660.6,988.0 660.8,987.6 661.0,987.3 661.2,987.0 661.4,986.7 661.6,986.4 661.7,986.1 662.3,985.2 662.9,984.4 663.5,983.6 664.0,982.9 664.6,982.3 665.2,981.7 665.8,981.1 666.3,980.6 666.9,980.2 667.5,979.7 668.1,979.3 668.6,978.9 669.2,978.6 669.8,978.2 670.4,977.9 670.9,977.6 671.5,977.2 672.1,976.9 672.6,976.6 673.2,976.4 673.8,976.1 674.4,975.8 674.9,975.5 675.5,975.2 676.1,975.0 676.7,974.7 677.2,974.5 677.8,974.2 678.4,974.0 679.0,973.7 679.5,973.5 680.1,973.3 680.7,973.1 681.3,972.9 681.8,972.7 682.4,972.6 683.0,972.4 683.6,972.2 684.1,972.0 684.7,971.9 685.3,971.7 685.9,971.6 686.4,971.5 687.0,971.3 687.6,971.2 688.2,971.1 688.7,970.9 689.3,970.8 689.9,970.7 690.4,970.6 691.0,970.5 691.6,970.4 692.2,970.3 692.7,970.2 693.3,970.1 693.9,970.0 694.5,969.9 695.0,969.9 695.6,969.8 696.2,969.7 696.8,969.6 697.3,969.6 697.9,969.5 698.5,969.4 699.1,969.4 699.6,969.3 700.2,969.2 700.8,969.2 701.4,969.1 701.9,969.1 702.5,969.0 703.1,969.0 703.7,968.9 704.2,968.9 704.8,968.8 705.4,968.8 706.0,968.8 706.5,968.8 707.1,968.8"/>
<polyline points="707.1,968.8 707.1,997.8"/>
<polyline points="714.3,1026.0 714.5,1025.4 714.7,1024.7 714.8,1024.0 715.0,1023.1 715.2,1022.3 715.4,1021.4 715.6,1020.4 715.8,1019.3 715.9,1018.1 716.1,1016.7 716.3,1015.3 716.5,1013.9 716.7,1012.4 716.9,1011.0 717.0,1009.5 717.2,1008.2 717.4,1006.9 717.6,1005.7 717.8,1004.5 717.9,1003.4 718.1,1002.2 718.3,1001.1 718.5,1000.0 718.7,998.9 718.9,997.8 719.0,996.7 719.2,995.7 719.4,994.7 719.6,993.7 719.8,992.8 720.0,991.9 720.1,991.1 720.3,990.3 720.5,989.6 720.7,988.9 720.9,988.1 721.0,987.5 721.2,986.8 721.4,986.2 721.6,985.6 721.8,985.0 722.0,984.4 722.1,983.9 722.3,983.4 722.5,982.9 722.7,982.4 722.9,982.0 723.1,981.6 723.2,981.2 723.4,980.8 723.6,980.4 723.8,980.1 724.0,979.7 724.1,979.4 724.3,979.0 724.5,978.7 724.7,978.3 724.9,978.0 725.1,977.7 725.2,977.4 725.8,976.5 726.3,975.7 726.9,974.9 727.5,974.2 728.0,973.6 728.6,973.0 729.1,972.5 729.7,972.0 730.2,971.6 730.8,971.2 731.3,970.8 731.9,970.4 732.4,970.1 733.0,969.7 733.5,969.4 734.1,969.1 734.7,968.8 735.2,968.5 735.8,968.3 736.3,968.0 736.9,967.7 737.4,967.4 738.0,967.1 738.5,966.9 739.1,966.6 739.6,966.4 740.2,966.2 740.7,965.9 741.3,965.7 741.9,965.5 742.4,965.3 743.0,965.1 743.5,964.9 744.1,964.8 744.6,964.6 745.2,964.5 745.7,964.3 746.3,964.2 746.8,964.0 747.4,963.9 748.0,963.8 748.5,963.7 749.1,963.6 749.6,963.4 750.2,963.3 750.7,963.2 751.3,963.1 751.8,963.0 752.4,963.0 752.9,962.9 753.5,962.8 754.0,962.7 754.6,962.6 755.2,962.6 755.7,962.5 756.3,962.4 756.8,962.3 757.4,962.3 757.9,962.2 758.5,962.1 759.0,962.0 759.6,962.0 760.1,961.9 760.7,961.8 761.2,961.8 761.8,961.7 762.4,961.7 762.9,961.6 763.5,961.6 764.0,961.5 764.6,961.5 765.1,961.4 765.7,961.4 766.2,961.3 766.8,961.3 767.3,961.3 767.9,961.2 768.4,961.2 769.0,961.2"/>
<polyline points="769.0,961.2 769.0,990.4"/>
<polyline points="776.0,1020.5 776.2,1019.8 776.3,1019.0 776.5,1018.2 776.7,1017.4 776.9,1016.5 777.0,1015.5 777.2,1014.5 777.4,1013.4 777.6,1012.1 777.7,1010.8 777.9,1009.4 778.1,1008.0 778.3,1006.6 778.4,1005.1 778.6,1003.7 778.8,1002.4 779.0,1001.1 779.1,999.9 779.3,998.7 779.5,997.5 779.6,996.3 779.8,995.1 780.0,994.0 780.2,992.8 780.3,991.7 780.5,990.6 780.7,989.5 780.9,988.4 781.0,987.3 781.2,986.3 781.4,985.4 781.6,984.5 781.7,983.6 781.9,982.8 782.1,982.1 782.3,981.3 782.4,980.6 782.6,980.0 782.8,979.3 782.9,978.7 783.1,978.1 783.3,977.5 783.5,976.9 783.6,976.4 783.8,975.9 784.0,975.5 784.2,975.0 784.3,974.6 784.5,974.2 784.7,973.8 784.9,973.4 785.0,973.1 785.2,972.7 785.4,972.3 785.6,972.0 785.7,971.6 785.9,971.3 786.1,971.0 786.2,970.7 786.4,970.3 786.9,969.4 787.5,968.6 788.0,967.8 788.5,967.1 789.1,966.5 789.6,965.9 790.1,965.4 790.6,964.9 791.2,964.4 791.7,964.0 792.2,963.6 792.8,963.2 793.3,962.9 793.8,962.6 794.3,962.2 794.9,961.9 795.4,961.6 795.9,961.3 796.4,961.1 797.0,960.8 797.5,960.5 798.0,960.2 798.6,960.0 799.1,959.7 799.6,959.4 800.1,959.2 800.7,958.9 801.2,958.7 801.7,958.5 802.2,958.3 802.8,958.1 803.3,957.9 803.8,957.7 804.4,957.5 804.9,957.4 805.4,957.2 805.9,957.1 806.5,956.9 807.0,956.8 807.5,956.6 808.1,956.5 808.6,956.4 809.1,956.3 809.6,956.2 810.2,956.0 810.7,955.9 811.2,955.8 811.7,955.7 812.3,955.7 812.8,955.6 813.3,955.5 813.9,955.4 814.4,955.3 814.9,955.2 815.4,955.2 816.0,955.1 816.5,955.0 817.0,955.0 817.5,954.9 818.1,954.8 818.6,954.8 819.1,954.7 819.7,954.6 820.2,954.6 820.7,954.5 821.2,954.5 821.8,954.4 822.3,954.4 822.8,954.3 823.4,954.3 823.9,954.2 824.4,954.2 824.9,954.2 825.5,954.1 826.0,954.1 826.5,954.1 827.0,954.0 827.6,954.0 828.1,954.0"/>
<polyline points="828.1,954.0 828.1,983.8"/>
<polyline points="839.1,983.8 839.2,982.6 839.4,981.5 839.6,980.4 839.7,979.4 839.9,978.4 840.0,977.5 840.2,976.6 840.4,975.8 840.5,975.1 840.7,974.3 840.9,973.6 841.0,973.0 841.2,972.3 841.4,971.7 841.5,971.1 841.7,970.5 841.9,970.0 842.0,969.5 842.2,969.0 842.4,968.6 842.5,968.2 842.7,967.8 842.9,967.4 843.0,967.0 843.2,966.6 843.3,966.2 843.5,965.9 843.7,965.5 843.8,965.2 844.0,964.8 844.2,964.5 844.3,964.2 844.5,963.8 845.0,962.9 845.5,962.1 846.0,961.3 846.5,960.6 847.0,959.9 847.5,959.4 848.0,958.8 848.5,958.3 849.0,957.8 849.5,957.4 850.0,957.0 850.5,956.6 851.0,956.3 851.5,955.9 852.0,955.6 852.5,955.3 853.0,955.0 853.5,954.7 854.0,954.4 854.5,954.2 855.0,953.9 855.5,953.6 856.0,953.3 856.5,953.1 857.0,952.8 857.5,952.6 858.0,952.3 858.5,952.1 859.0,951.9 859.5,951.6 860.0,951.4 860.5,951.2 861.0,951.0 861.5,950.9 862.0,950.7 862.5,950.5 863.0,950.4 863.5,950.2 864.0,950.1 864.6,950.0 865.1,949.8 865.6,949.7 866.1,949.6 866.6,949.5 867.1,949.3 867.6,949.2 868.1,949.1 868.6,949.0 869.1,948.9 869.6,948.8 870.1,948.8 870.6,948.7 871.1,948.6 871.6,948.5 872.1,948.4 872.6,948.4 873.1,948.3 873.6,948.2 874.1,948.2 874.6,948.1 875.1,948.1 875.6,948.0 876.1,948.0 876.6,947.9 877.1,947.9 877.6,947.8 878.1,947.8 878.6,947.7 879.1,947.7 879.6,947.6 880.1,947.6 880.6,947.6 881.1,947.5 881.6,947.5 882.1,947.5 882.6,947.5 883.1,947.4 883.6,947.4 884.1,947.4"/>
<polyline points="884.1,947.4 884.1,976.8"/>
<polyline points="894.7,978.0 894.8,976.8 895.0,975.6 895.2,974.5 895.3,973.4 895.5,972.3 895.6,971.3 895.8,970.4 896.0,969.6 896.1,968.8 896.3,968.1 896.4,967.4 896.6,966.7 896.7,966.0 896.9,965.4 897.1,964.8 897.2,964.2 897.4,963.7 897.5,963.2 897.7,962.7 897.9,962.2 898.0,961.8 898.2,961.4 898.3,961.0 898.5,960.6 898.7,960.2 898.8,959.8 899.0,959.5 899.1,959.1 899.3,958.8 899.4,958.4 899.6,958.1 899.8,957.8 899.9,957.4 900.4,956.5 900.9,955.7 901.4,954.9 901.8,954.2 902.3,953.5 902.8,952.9 903.3,952.4 903.8,951.9 904.3,951.4 904.7,951.0 905.2,950.6 905.7,950.2 906.2,949.8 906.7,949.5 907.2,949.2 907.6,948.8 908.1,948.5 908.6,948.3 909.1,948.0 909.6,947.7 910.0,947.4 910.5,947.1 911.0,946.9 911.5,946.6 912.0,946.4 912.5,946.1 912.9,945.9 913.4,945.6 913.9,945.4 914.4,945.2 914.9,945.0 915.3,944.8 915.8,944.6 916.3,944.4 916.8,944.2 917.3,944.0 917.8,943.9 918.2,943.7 918.7,943.6 919.2,943.4 919.7,943.3 920.2,943.2 920.6,943.1 921.1,942.9 921.6,942.8 922.1,942.7 922.6,942.6 923.1,942.5 923.5,942.4 924.0,942.3 924.5,942.2 925.0,942.1 925.5,942.1 925.9,942.0 926.4,941.9 926.9,941.8 927.4,941.8 927.9,941.7 928.4,941.7 928.8,941.6 929.3,941.6 929.8,941.5 930.3,941.5 930.8,941.4 931.3,941.4 931.7,941.3 932.2,941.3 932.7,941.3 933.2,941.2 933.7,941.2 934.1,941.2 934.6,941.1 935.1,941.1 935.6,941.1 936.1,941.1 936.6,941.0 937.0,941.0 937.5,941.0 938.0,941.0"/>
<polyline points="938.0,941.0 938.0,970.4"/>
<polyline points="948.0,972.1 948.2,970.8 948.4,969.5 948.5,968.2 948.6,967.0 948.8,965.8 949.0,964.8 949.1,963.8 949.2,962.9 949.4,962.1 949.5,961.3 949.7,960.6 949.9,959.9 950.0,959.2 950.1,958.5 950.3,957.9 950.5,957.3 950.6,956.7 950.8,956.2 950.9,955.7 951.0,955.2 951.2,954.8 951.4,954.4 951.5,954.0 951.6,953.5 951.8,953.1 952.0,952.8 952.1,952.4 952.2,952.0 952.4,951.7 952.5,951.3 952.7,951.0 952.9,950.6 953.0,950.3 953.5,949.4 953.9,948.5 954.4,947.7 954.8,947.0 955.3,946.3 955.7,945.7 956.2,945.1 956.6,944.6 957.1,944.1 957.6,943.6 958.0,943.2 958.5,942.8 958.9,942.4 959.4,942.1 959.8,941.8 960.3,941.4 960.7,941.1 961.2,940.8 961.7,940.5 962.1,940.3 962.6,940.0 963.0,939.7 963.5,939.5 963.9,939.2 964.4,938.9 964.8,938.7 965.3,938.4 965.8,938.2 966.2,937.9 966.7,937.7 967.1,937.5 967.6,937.3 968.0,937.0 968.5,936.9 968.9,936.7 969.4,936.5 969.9,936.3 970.3,936.2 970.8,936.0 971.2,935.9 971.7,935.8 972.1,935.6 972.6,935.5 973.1,935.4 973.5,935.2 974.0,935.1 974.4,935.0 974.9,934.9 975.3,934.8 975.8,934.7 976.2,934.6 976.7,934.5 977.2,934.4 977.6,934.4 978.1,934.3 978.5,934.2 979.0,934.2 979.4,934.1 979.9,934.1 980.3,934.0 980.8,934.0 981.3,933.9 981.7,933.9 982.2,933.9 982.6,933.8 983.1,933.8 983.5,933.8 984.0,933.7 984.4,933.7 984.9,933.7 985.4,933.6 985.8,933.6 986.3,933.6 986.7,933.6 987.2,933.5 987.6,933.5 988.1,933.5 988.5,933.5 989.0,933.5"/>
<polyline points="989.0,933.5 989.0,963.6"/>
<polyline points="998.6,965.8 998.8,964.4 998.9,963.0 999.1,961.6 999.2,960.3 999.4,959.1 999.5,958.0 999.6,956.9 999.8,956.0 999.9,955.2 1000.1,954.4 1000.2,953.6 1000.4,952.8 1000.5,952.1 1000.6,951.5 1000.8,950.8 1000.9,950.2 1001.1,949.7 1001.2,949.1 1001.3,948.6 1001.5,948.1 1001.6,947.7 1001.8,947.2 1001.9,946.8 1002.1,946.4 1002.2,946.0 1002.3,945.6 1002.5,945.2 1002.6,944.8 1002.8,944.5 1002.9,944.1 1003.1,943.8 1003.2,943.5 1003.3,943.1 1003.8,942.2 1004.2,941.3 1004.6,940.5 1005.1,939.8 1005.5,939.1 1005.9,938.5 1006.4,937.9 1006.8,937.3 1007.2,936.8 1007.7,936.4 1008.1,935.9 1008.5,935.5 1009.0,935.2 1009.4,934.8 1009.8,934.5 1010.3,934.2 1010.7,933.8 1011.1,933.5 1011.6,933.3 1012.0,933.0 1012.4,932.7 1012.9,932.4 1013.3,932.2 1013.7,931.9 1014.2,931.6 1014.6,931.4 1015.0,931.1 1015.4,930.9 1015.9,930.6 1016.3,930.4 1016.7,930.2 1017.2,929.9 1017.6,929.7 1018.0,929.5 1018.5,929.3 1018.9,929.1 1019.3,929.0 1019.8,928.8 1020.2,928.7 1020.6,928.5 1021.1,928.4 1021.5,928.3 1021.9,928.1 1022.4,928.0 1022.8,927.9 1023.2,927.7 1023.7,927.6 1024.1,927.5 1024.5,927.4 1025.0,927.3 1025.4,927.2 1025.8,927.1 1026.3,927.0 1026.7,927.0 1027.1,926.9 1027.6,926.8 1028.0,926.8 1028.4,926.7 1028.9,926.7 1029.3,926.6 1029.7,926.6 1030.1,926.6 1030.6,926.6 1031.0,926.5 1031.4,926.5 1031.9,926.5 1032.3,926.4 1032.7,926.4 1033.2,926.4 1033.6,926.4 1034.0,926.3 1034.5,926.3 1034.9,926.3 1035.3,926.3 1035.8,926.3 1036.2,926.3 1036.6,926.3 1037.1,926.3 1037.5,926.2"/>
<polyline points="1037.5,926.2 1037.5,959.1"/>
<polyline points="1046.9,959.8 1047.0,958.2 1047.2,956.8 1047.3,955.3 1047.4,953.9 1047.6,952.6 1047.7,951.4 1047.8,950.3 1048.0,949.4 1048.1,948.5 1048.3,947.7 1048.4,946.9 1048.5,946.1 1048.7,945.4 1048.8,944.7 1048.9,944.1 1049.1,943.4 1049.2,942.9 1049.4,942.3 1049.5,941.8 1049.6,941.3 1049.8,940.9 1049.9,940.4 1050.0,940.0 1050.2,939.5 1050.3,939.1 1050.4,938.7 1050.6,938.3 1050.7,938.0 1050.9,937.6 1051.0,937.3 1051.1,936.9 1051.3,936.6 1051.4,936.2 1051.8,935.3 1052.2,934.4 1052.6,933.6 1053.1,932.9 1053.5,932.2 1053.9,931.6 1054.3,930.9 1054.7,930.4 1055.1,929.9 1055.6,929.4 1056.0,929.0 1056.4,928.6 1056.8,928.2 1057.2,927.8 1057.6,927.5 1058.0,927.2 1058.5,926.8 1058.9,926.5 1059.3,926.3 1059.7,926.0 1060.1,925.7 1060.5,925.4 1060.9,925.2 1061.4,924.9 1061.8,924.7 1062.2,924.4 1062.6,924.1 1063.0,923.9 1063.4,923.6 1063.9,923.4 1064.3,923.1 1064.7,922.9 1065.1,922.7 1065.5,922.5 1065.9,922.3 1066.3,922.1 1066.8,921.9 1067.2,921.8 1067.6,921.6 1068.0,921.5 1068.4,921.3 1068.8,921.2 1069.3,921.1 1069.7,920.9 1070.1,920.8 1070.5,920.7 1070.9,920.5 1071.3,920.4 1071.7,920.3 1072.2,920.2 1072.6,920.1 1073.0,920.0 1073.4,919.9 1073.8,919.9 1074.2,919.8 1074.7,919.7 1075.1,919.7 1075.5,919.6 1075.9,919.6 1076.3,919.6 1076.7,919.6 1077.1,919.5 1077.6,919.5 1078.0,919.5 1078.4,919.5 1078.8,919.4 1079.2,919.4 1079.6,919.4 1080.0,919.4 1080.5,919.4 1080.9,919.4 1081.3,919.3 1081.7,919.3 1082.1,919.3 1082.5,919.3 1083.0,919.3 1083.4,919.3 1083.8,919.3 1084.2,919.3"/>
<polyline points="1084.2,919.3 1084.2,951.6"/>
<polyline points="1092.6,952.8 1092.7,951.3 1092.8,949.8 1093.0,948.4 1093.1,946.9 1093.2,945.6 1093.4,944.3 1093.5,943.1 1093.6,942.0 1093.8,941.1 1093.9,940.2 1094.0,939.4 1094.2,938.6 1094.3,937.9 1094.4,937.1 1094.5,936.5 1094.7,935.8 1094.8,935.2 1094.9,934.6 1095.1,934.1 1095.2,933.6 1095.3,933.1 1095.5,932.6 1095.6,932.2 1095.7,931.8 1095.8,931.3 1096.0,930.9 1096.1,930.5 1096.2,930.2 1096.4,929.8 1096.5,929.4 1096.6,929.1 1096.8,928.7 1096.9,928.4 1097.0,928.1 1097.4,927.1 1097.8,926.3 1098.2,925.5 1098.6,924.7 1099.0,924.0 1099.4,923.4 1099.8,922.8 1100.2,922.2 1100.6,921.7 1101.0,921.2 1101.4,920.8 1101.8,920.3 1102.2,920.0 1102.6,919.6 1103.0,919.2 1103.4,918.9 1103.8,918.6 1104.1,918.3 1104.5,918.0 1104.9,917.7 1105.3,917.4 1105.7,917.1 1106.1,916.9 1106.5,916.6 1106.9,916.3 1107.3,916.1 1107.7,915.8 1108.1,915.5 1108.5,915.3 1108.9,915.0 1109.3,914.8 1109.7,914.6 1110.1,914.3 1110.5,914.1 1110.9,913.9 1111.3,913.7 1111.7,913.5 1112.1,913.4 1112.5,913.2 1112.9,913.1 1113.3,912.9 1113.6,912.8 1114.0,912.7 1114.4,912.5 1114.8,912.4 1115.2,912.3 1115.6,912.2 1116.0,912.0 1116.4,911.9 1116.8,911.8 1117.2,911.7 1117.6,911.6 1118.0,911.5 1118.4,911.5 1118.8,911.4 1119.2,911.3 1119.6,911.3 1120.0,911.2 1120.4,911.2 1120.8,911.1 1121.2,911.1 1121.6,911.1 1122.0,911.0 1122.4,911.0 1122.8,911.0 1123.2,911.0 1123.5,910.9 1123.9,910.9 1124.3,910.9 1124.7,910.9 1125.1,910.9 1125.5,910.9 1125.9,910.8 1126.3,910.8 1126.7,910.8 1127.1,910.8 1127.5,910.8 1127.9,910.8 1128.3,910.8"/>
<polyline points="1128.3,910.8 1128.3,945.7"/>
<polyline points="1136.0,947.2 1136.2,945.8 1136.3,944.3 1136.4,942.9 1136.5,941.5 1136.7,940.1 1136.8,938.8 1136.9,937.5 1137.0,936.4 1137.2,935.3 1137.3,934.4 1137.4,933.6 1137.5,932.8 1137.7,932.0 1137.8,931.3 1137.9,930.6 1138.0,930.0 1138.2,929.3 1138.3,928.7 1138.4,928.2 1138.5,927.7 1138.7,927.2 1138.8,926.7 1138.9,926.2 1139.0,925.8 1139.2,925.4 1139.3,925.0 1139.4,924.6 1139.5,924.2 1139.7,923.8 1139.8,923.4 1139.9,923.1 1140.0,922.7 1140.2,922.4 1140.3,922.1 1140.4,921.8 1140.8,920.8 1141.2,920.0 1141.6,919.2 1141.9,918.5 1142.3,917.8 1142.7,917.2 1143.1,916.6 1143.5,916.0 1143.8,915.5 1144.2,915.0 1144.6,914.5 1145.0,914.1 1145.4,913.7 1145.8,913.3 1146.1,913.0 1146.5,912.6 1146.9,912.3 1147.3,912.0 1147.7,911.7 1148.0,911.4 1148.4,911.1 1148.8,910.8 1149.2,910.6 1149.6,910.3 1149.9,910.0 1150.3,909.7 1150.7,909.5 1151.1,909.2 1151.5,909.0 1151.8,908.7 1152.2,908.5 1152.6,908.2 1153.0,908.0 1153.4,907.8 1153.7,907.6 1154.1,907.4 1154.5,907.2 1154.9,907.1 1155.3,906.9 1155.7,906.8 1156.0,906.6 1156.4,906.5 1156.8,906.3 1157.2,906.2 1157.6,906.1 1157.9,906.0 1158.3,905.8 1158.7,905.7 1159.1,905.6 1159.5,905.5 1159.8,905.4 1160.2,905.3 1160.6,905.2 1161.0,905.1 1161.4,905.1 1161.7,905.0 1162.1,904.9 1162.5,904.9 1162.9,904.8 1163.3,904.8 1163.6,904.8 1164.0,904.7 1164.4,904.7 1164.8,904.7 1165.2,904.6 1165.6,904.6 1165.9,904.6 1166.3,904.5 1166.7,904.5 1167.1,904.5 1167.5,904.5 1167.8,904.5 1168.2,904.4 1168.6,904.4 1169.0,904.4 1169.4,904.4 1169.7,904.4 1170.1,904.4 1170.5,904.4"/>
<polyline points="1170.5,904.4 1170.5,939.4"/>
<polyline points="1177.7,942.1 1177.9,940.8 1178.0,939.4 1178.1,938.0 1178.2,936.6 1178.3,935.2 1178.5,933.8 1178.6,932.5 1178.7,931.2 1178.8,929.9 1178.9,928.8 1179.1,927.8 1179.2,926.9 1179.3,926.0 1179.4,925.3 1179.5,924.5 1179.7,923.8 1179.8,923.1 1179.9,922.5 1180.0,921.9 1180.1,921.3 1180.3,920.7 1180.4,920.2 1180.5,919.7 1180.6,919.3 1180.7,918.8 1180.8,918.4 1181.0,917.9 1181.1,917.5 1181.2,917.1 1181.3,916.7 1181.4,916.4 1181.6,916.0 1181.7,915.7 1181.8,915.3 1181.9,915.0 1182.0,914.7 1182.2,914.3 1182.5,913.4 1182.9,912.6 1183.2,911.8 1183.6,911.1 1184.0,910.4 1184.3,909.8 1184.7,909.1 1185.1,908.6 1185.4,908.0 1185.8,907.5 1186.1,907.1 1186.5,906.6 1186.9,906.2 1187.2,905.8 1187.6,905.5 1188.0,905.1 1188.3,904.8 1188.7,904.4 1189.0,904.1 1189.4,903.8 1189.8,903.5 1190.1,903.2 1190.5,903.0 1190.9,902.7 1191.2,902.4 1191.6,902.1 1191.9,901.9 1192.3,901.6 1192.7,901.3 1193.0,901.1 1193.4,900.8 1193.8,900.6 1194.1,900.4 1194.5,900.1 1194.8,899.9 1195.2,899.7 1195.6,899.6 1195.9,899.4 1196.3,899.2 1196.7,899.1 1197.0,898.9 1197.4,898.8 1197.7,898.7 1198.1,898.5 1198.5,898.4 1198.8,898.3 1199.2,898.2 1199.6,898.0 1199.9,897.9 1200.3,897.8 1200.6,897.7 1201.0,897.6 1201.4,897.5 1201.7,897.4 1202.1,897.4 1202.5,897.3 1202.8,897.2 1203.2,897.2 1203.5,897.1 1203.9,897.1 1204.3,897.0 1204.6,897.0 1205.0,896.9 1205.4,896.9 1205.7,896.9 1206.1,896.8 1206.4,896.8 1206.8,896.8 1207.2,896.7 1207.5,896.7 1207.9,896.7 1208.3,896.7 1208.6,896.7 1209.0,896.6 1209.3,896.6 1209.7,896.6 1210.1,896.6 1210.4,896.6 1210.8,896.6"/>
<polyline points="1210.8,896.6 1210.8,932.4"/>
<polyline points="1217.5,934.5 1217.6,933.3 1217.8,932.0 1217.9,930.7 1218.0,929.3 1218.1,928.0 1218.2,926.6 1218.3,925.3 1218.4,924.0 1218.6,922.8 1218.7,921.6 1218.8,920.5 1218.9,919.5 1219.0,918.6 1219.1,917.8 1219.2,917.0 1219.4,916.3 1219.5,915.6 1219.6,915.0 1219.7,914.4 1219.8,913.8 1219.9,913.2 1220.0,912.7 1220.2,912.2 1220.3,911.7 1220.4,911.2 1220.5,910.8 1220.6,910.4 1220.7,909.9 1220.8,909.5 1221.0,909.2 1221.1,908.8 1221.2,908.4 1221.3,908.1 1221.4,907.7 1221.5,907.4 1221.7,907.1 1221.8,906.7 1221.9,906.4 1222.2,905.6 1222.6,904.8 1222.9,904.0 1223.3,903.3 1223.6,902.6 1224.0,901.9 1224.3,901.3 1224.7,900.8 1225.0,900.2 1225.4,899.7 1225.7,899.3 1226.1,898.8 1226.4,898.4 1226.8,898.0 1227.1,897.6 1227.5,897.3 1227.8,896.9 1228.2,896.6 1228.5,896.3 1228.8,895.9 1229.2,895.7 1229.5,895.4 1229.9,895.1 1230.2,894.8 1230.6,894.5 1230.9,894.2 1231.3,894.0 1231.6,893.7 1232.0,893.4 1232.3,893.2 1232.7,892.9 1233.0,892.7 1233.4,892.5 1233.7,892.2 1234.1,892.0 1234.4,891.8 1234.8,891.7 1235.1,891.5 1235.5,891.3 1235.8,891.2 1236.2,891.0 1236.5,890.9 1236.9,890.8 1237.2,890.6 1237.6,890.5 1237.9,890.4 1238.3,890.3 1238.6,890.2 1238.9,890.0 1239.3,889.9 1239.6,889.8 1240.0,889.7 1240.3,889.6 1240.7,889.5 1241.0,889.5 1241.4,889.4 1241.7,889.3 1242.1,889.3 1242.4,889.2 1242.8,889.1 1243.1,889.1 1243.5,889.0 1243.8,889.0 1244.2,889.0 1244.5,888.9 1244.9,888.9 1245.2,888.8 1245.6,888.8 1245.9,888.8 1246.3,888.7 1246.6,888.7 1247.0,888.7 1247.3,888.7 1247.7,888.6 1248.0,888.6 1248.4,888.6 1248.7,888.6 1249.1,888.6 1249.4,888.6"/>
<polyline points="1249.4,888.6 1249.4,926.1"/>
<polyline points="1255.6,928.0 1255.7,926.8 1255.8,925.5 1255.9,924.3 1256.0,923.1 1256.1,921.8 1256.3,920.6 1256.4,919.3 1256.5,918.0 1256.6,916.7 1256.7,915.5 1256.8,914.3 1256.9,913.1 1257.0,912.1 1257.1,911.1 1257.2,910.2 1257.3,909.5 1257.5,908.7 1257.6,908.1 1257.7,907.4 1257.8,906.8 1257.9,906.2 1258.0,905.6 1258.1,905.1 1258.2,904.6 1258.3,904.1 1258.4,903.6 1258.6,903.2 1258.7,902.7 1258.8,902.3 1258.9,901.9 1259.0,901.5 1259.1,901.2 1259.2,900.8 1259.3,900.4 1259.4,900.1 1259.5,899.8 1259.7,899.4 1259.8,899.1 1259.9,898.8 1260.0,898.5 1260.3,897.7 1260.6,896.9 1261.0,896.1 1261.3,895.4 1261.6,894.8 1262.0,894.1 1262.3,893.5 1262.6,893.0 1263.0,892.4 1263.3,891.9 1263.6,891.4 1264.0,891.0 1264.3,890.6 1264.6,890.2 1265.0,889.8 1265.3,889.4 1265.6,889.0 1266.0,888.7 1266.3,888.4 1266.6,888.1 1267.0,887.8 1267.3,887.5 1267.6,887.2 1268.0,886.9 1268.3,886.6 1268.6,886.3 1269.0,886.1 1269.3,885.8 1269.6,885.5 1270.0,885.3 1270.3,885.0 1270.6,884.8 1271.0,884.6 1271.3,884.3 1271.6,884.1 1272.0,883.9 1272.3,883.8 1272.6,883.6 1273.0,883.4 1273.3,883.3 1273.6,883.1 1274.0,883.0 1274.3,882.9 1274.6,882.7 1275.0,882.6 1275.3,882.5 1275.6,882.4 1276.0,882.3 1276.3,882.1 1276.6,882.0 1277.0,881.9 1277.3,881.8 1277.6,881.7 1278.0,881.7 1278.3,881.6 1278.6,881.5 1279.0,881.4 1279.3,881.3 1279.6,881.3 1280.0,881.2 1280.3,881.2 1280.6,881.1 1281.0,881.1 1281.3,881.0 1281.6,881.0 1282.0,880.9 1282.3,880.9 1282.6,880.8 1283.0,880.8 1283.3,880.8 1283.6,880.7 1284.0,880.7 1284.3,880.7 1284.6,880.6 1285.0,880.6 1285.3,880.6 1285.6,880.6 1286.0,880.6 1286.3,880.6"/>
<polyline points="1286.3,880.6 1286.3,918.4"/>
<polyline points="1291.9,921.0 1292.0,919.7 1292.1,918.4 1292.2,917.2 1292.3,916.0 1292.4,914.8 1292.6,913.6 1292.7,912.4 1292.8,911.2 1292.9,909.9 1293.0,908.7 1293.1,907.5 1293.2,906.3 1293.3,905.1 1293.4,904.0 1293.5,902.9 1293.6,902.0 1293.7,901.2 1293.8,900.4 1293.9,899.7 1294.0,899.1 1294.1,898.5 1294.3,897.9 1294.4,897.3 1294.5,896.8 1294.6,896.2 1294.7,895.7 1294.8,895.2 1294.9,894.8 1295.0,894.3 1295.1,893.9 1295.2,893.5 1295.3,893.1 1295.4,892.7 1295.5,892.4 1295.6,892.0 1295.7,891.6 1295.8,891.3 1296.0,891.0 1296.1,890.7 1296.2,890.4 1296.3,890.1 1296.4,889.8 1296.7,889.0 1297.0,888.2 1297.3,887.4 1297.7,886.7 1298.0,886.1 1298.3,885.4 1298.6,884.8 1299.0,884.3 1299.3,883.7 1299.6,883.2 1299.9,882.7 1300.3,882.3 1300.6,881.8 1300.9,881.4 1301.2,881.0 1301.5,880.6 1301.9,880.3 1302.2,879.9 1302.5,879.6 1302.8,879.3 1303.2,879.0 1303.5,878.7 1303.8,878.4 1304.1,878.1 1304.5,877.8 1304.8,877.5 1305.1,877.2 1305.4,876.9 1305.7,876.7 1306.1,876.4 1306.4,876.2 1306.7,875.9 1307.0,875.7 1307.4,875.5 1307.7,875.3 1308.0,875.1 1308.3,874.9 1308.7,874.7 1309.0,874.5 1309.3,874.4 1309.6,874.2 1309.9,874.1 1310.3,874.0 1310.6,873.9 1310.9,873.7 1311.2,873.6 1311.6,873.5 1311.9,873.4 1312.2,873.3 1312.5,873.2 1312.9,873.1 1313.2,873.0 1313.5,872.9 1313.8,872.8 1314.1,872.7 1314.5,872.6 1314.8,872.5 1315.1,872.4 1315.4,872.4 1315.8,872.3 1316.1,872.2 1316.4,872.2 1316.7,872.1 1317.1,872.1 1317.4,872.0 1317.7,871.9 1318.0,871.9 1318.3,871.9 1318.7,871.8 1319.0,871.8 1319.3,871.7 1319.6,871.7 1320.0,871.7 1320.3,871.7 1320.6,871.6 1320.9,871.6 1321.3,871.6 1321.6,871.6 1321.9,871.6"/>
<polyline points="1321.9,871.6 1321.9,910.9"/>
<polyline points="1327.0,914.1 1327.1,912.7 1327.2,911.4 1327.3,910.1 1327.4,908.9 1327.5,907.6 1327.6,906.5 1327.7,905.3 1327.8,904.1 1328.0,903.0 1328.1,901.9 1328.2,900.7 1328.3,899.5 1328.4,898.4 1328.5,897.2 1328.6,896.1 1328.7,895.0 1328.8,894.0 1328.9,893.1 1329.0,892.3 1329.1,891.6 1329.2,891.0 1329.3,890.3 1329.4,889.8 1329.5,889.2 1329.6,888.6 1329.7,888.1 1329.8,887.6 1329.9,887.1 1330.0,886.7 1330.1,886.2 1330.2,885.8 1330.3,885.4 1330.4,885.0 1330.5,884.6 1330.6,884.2 1330.7,883.8 1330.8,883.5 1330.9,883.2 1331.0,882.8 1331.1,882.5 1331.2,882.2 1331.3,881.9 1331.4,881.6 1331.5,881.3 1331.8,880.5 1332.1,879.8 1332.4,879.1 1332.8,878.4 1333.1,877.7 1333.4,877.1 1333.7,876.5 1334.0,875.9 1334.3,875.4 1334.6,874.9 1334.9,874.4 1335.2,873.9 1335.5,873.5 1335.9,873.0 1336.2,872.6 1336.5,872.2 1336.8,871.9 1337.1,871.5 1337.4,871.2 1337.7,870.8 1338.0,870.5 1338.3,870.2 1338.6,869.9 1339.0,869.6 1339.3,869.3 1339.6,869.0 1339.9,868.8 1340.2,868.5 1340.5,868.2 1340.8,868.0 1341.1,867.7 1341.4,867.5 1341.7,867.2 1342.1,867.0 1342.4,866.8 1342.7,866.6 1343.0,866.4 1343.3,866.2 1343.6,866.1 1343.9,865.9 1344.2,865.8 1344.5,865.6 1344.8,865.5 1345.2,865.4 1345.5,865.3 1345.8,865.1 1346.1,865.0 1346.4,864.9 1346.7,864.8 1347.0,864.7 1347.3,864.6 1347.6,864.5 1347.9,864.4 1348.3,864.3 1348.6,864.2 1348.9,864.1 1349.2,864.0 1349.5,863.9 1349.8,863.9 1350.1,863.8 1350.4,863.7 1350.7,863.6 1351.0,863.6 1351.4,863.5 1351.7,863.4 1352.0,863.4 1352.3,863.3 1352.6,863.3 1352.9,863.2 1353.2,863.2 1353.5,863.2 1353.8,863.1 1354.1,863.1 1354.5,863.1 1354.8,863.0 1355.1,863.0 1355.4,863.0 1355.7,863.0 1356.0,863.0"/>
<polyline points="1356.0,863.0 1356.0,902.9"/>
<polyline points="1361.0,903.6 1361.0,902.2 1361.1,900.9 1361.2,899.6 1361.3,898.3 1361.4,897.1 1361.5,895.9 1361.6,894.8 1361.7,893.6 1361.8,892.5 1361.9,891.5 1362.0,890.4 1362.1,889.3 1362.2,888.2 1362.3,887.1 1362.4,886.0 1362.5,885.0 1362.6,884.0 1362.7,883.0 1362.8,882.1 1362.9,881.4 1363.0,880.7 1363.1,880.1 1363.2,879.5 1363.3,879.0 1363.4,878.4 1363.5,877.9 1363.6,877.4 1363.7,876.9 1363.8,876.5 1363.8,876.0 1363.9,875.6 1364.0,875.2 1364.1,874.8 1364.2,874.4 1364.3,874.0 1364.4,873.7 1364.5,873.3 1364.6,873.0 1364.7,872.6 1364.8,872.3 1364.9,872.0 1365.0,871.7 1365.1,871.4 1365.2,871.2 1365.3,870.9 1365.6,870.1 1365.9,869.4 1366.2,868.7 1366.5,868.1 1366.8,867.4 1367.1,866.8 1367.4,866.2 1367.6,865.6 1367.9,865.1 1368.2,864.6 1368.5,864.1 1368.8,863.6 1369.1,863.2 1369.4,862.7 1369.7,862.3 1370.0,861.9 1370.3,861.5 1370.6,861.2 1370.9,860.8 1371.2,860.5 1371.5,860.1 1371.8,859.8 1372.1,859.5 1372.3,859.2 1372.6,858.9 1372.9,858.6 1373.2,858.4 1373.5,858.1 1373.8,857.8 1374.1,857.6 1374.4,857.3 1374.7,857.1 1375.0,856.8 1375.3,856.6 1375.6,856.4 1375.9,856.2 1376.2,856.0 1376.5,855.8 1376.8,855.7 1377.0,855.5 1377.3,855.4 1377.6,855.2 1377.9,855.1 1378.2,855.0 1378.5,854.9 1378.8,854.8 1379.1,854.6 1379.4,854.5 1379.7,854.4 1380.0,854.3 1380.3,854.2 1380.6,854.1 1380.9,854.0 1381.2,853.9 1381.5,853.8 1381.7,853.7 1382.0,853.6 1382.3,853.5 1382.6,853.5 1382.9,853.4 1383.2,853.3 1383.5,853.2 1383.8,853.1 1384.1,853.1 1384.4,853.0 1384.7,852.9 1385.0,852.9 1385.3,852.8 1385.6,852.8 1385.9,852.7 1386.2,852.7 1386.4,852.6 1386.7,852.6 1387.0,852.6 1387.3,852.5 1387.6,852.5 1387.9,852.5 1388.2,852.5 1388.5,852.5"/>
<polyline points="1388.5,852.5 1388.5,893.4"/>
<polyline points="1393.8,895.9 1393.9,894.4 1394.0,893.0 1394.1,891.5 1394.2,890.2 1394.3,888.8 1394.4,887.6 1394.5,886.3 1394.6,885.1 1394.6,883.9 1394.7,882.7 1394.8,881.6 1394.9,880.4 1395.0,879.3 1395.1,878.2 1395.2,877.1 1395.3,876.0 1395.4,874.9 1395.5,873.9 1395.6,873.0 1395.7,872.1 1395.8,871.3 1395.9,870.6 1396.0,869.9 1396.0,869.3 1396.1,868.7 1396.2,868.2 1396.3,867.6 1396.4,867.1 1396.5,866.6 1396.6,866.1 1396.7,865.7 1396.8,865.2 1396.9,864.8 1397.0,864.4 1397.1,864.0 1397.2,863.6 1397.3,863.2 1397.4,862.9 1397.4,862.5 1397.5,862.2 1397.6,861.8 1397.7,861.5 1397.8,861.2 1397.9,860.9 1398.0,860.6 1398.1,860.3 1398.4,859.5 1398.7,858.7 1399.0,857.9 1399.2,857.2 1399.5,856.5 1399.8,855.9 1400.1,855.3 1400.4,854.7 1400.7,854.2 1400.9,853.7 1401.2,853.2 1401.5,852.7 1401.8,852.3 1402.1,851.8 1402.4,851.4 1402.6,851.0 1402.9,850.7 1403.2,850.3 1403.5,849.9 1403.8,849.6 1404.1,849.3 1404.3,849.0 1404.6,848.7 1404.9,848.4 1405.2,848.1 1405.5,847.8 1405.8,847.5 1406.0,847.2 1406.3,847.0 1406.6,846.7 1406.9,846.4 1407.2,846.2 1407.5,846.0 1407.7,845.7 1408.0,845.5 1408.3,845.3 1408.6,845.1 1408.9,844.9 1409.2,844.7 1409.4,844.6 1409.7,844.4 1410.0,844.3 1410.3,844.1 1410.6,844.0 1410.9,843.9 1411.1,843.7 1411.4,843.6 1411.7,843.5 1412.0,843.4 1412.3,843.2 1412.6,843.1 1412.8,843.0 1413.1,842.9 1413.4,842.8 1413.7,842.7 1414.0,842.6 1414.3,842.5 1414.5,842.4 1414.8,842.3 1415.1,842.2 1415.4,842.2 1415.7,842.1 1416.0,842.0 1416.2,842.0 1416.5,841.9 1416.8,841.9 1417.1,841.8 1417.4,841.8 1417.7,841.7 1417.9,841.7 1418.2,841.6 1418.5,841.6 1418.8,841.6 1419.1,841.6 1419.4,841.5 1419.6,841.5 1419.9,841.5 1420.2,841.5 1420.5,841.5"/>
<polyline points="1420.5,841.5 1420.5,884.9"/>
<polyline points="1424.7,887.3 1424.8,885.7 1424.8,884.2 1424.9,882.7 1425.0,881.3 1425.1,879.9 1425.2,878.5 1425.3,877.2 1425.4,875.9 1425.5,874.7 1425.6,873.4 1425.7,872.2 1425.8,871.0 1425.8,869.9 1425.9,868.7 1426.0,867.6 1426.1,866.5 1426.2,865.5 1426.3,864.5 1426.4,863.5 1426.5,862.6 1426.6,861.7 1426.7,860.9 1426.7,860.1 1426.8,859.5 1426.9,858.8 1427.0,858.2 1427.1,857.7 1427.2,857.1 1427.3,856.6 1427.4,856.1 1427.5,855.6 1427.5,855.1 1427.6,854.7 1427.7,854.2 1427.8,853.8 1427.9,853.4 1428.0,853.0 1428.1,852.7 1428.2,852.3 1428.3,852.0 1428.4,851.6 1428.5,851.3 1428.5,850.9 1428.6,850.6 1428.7,850.3 1428.8,850.0 1428.9,849.7 1429.2,848.8 1429.4,847.9 1429.7,847.1 1430.0,846.4 1430.3,845.7 1430.5,845.1 1430.8,844.5 1431.1,843.9 1431.4,843.4 1431.6,842.9 1431.9,842.4 1432.2,842.0 1432.5,841.6 1432.7,841.2 1433.0,840.8 1433.3,840.4 1433.5,840.0 1433.8,839.7 1434.1,839.3 1434.4,839.0 1434.6,838.7 1434.9,838.4 1435.2,838.1 1435.5,837.8 1435.7,837.5 1436.0,837.2 1436.3,837.0 1436.6,836.7 1436.8,836.4 1437.1,836.2 1437.4,835.9 1437.6,835.7 1437.9,835.5 1438.2,835.2 1438.5,835.0 1438.7,834.8 1439.0,834.6 1439.3,834.4 1439.6,834.2 1439.8,834.1 1440.1,833.9 1440.4,833.7 1440.7,833.6 1440.9,833.4 1441.2,833.3 1441.5,833.1 1441.8,833.0 1442.0,832.9 1442.3,832.7 1442.6,832.6 1442.8,832.5 1443.1,832.3 1443.4,832.2 1443.7,832.1 1443.9,832.0 1444.2,831.9 1444.5,831.8 1444.8,831.7 1445.0,831.6 1445.3,831.6 1445.6,831.5 1445.9,831.4 1446.1,831.4 1446.4,831.4 1446.7,831.3 1446.9,831.3 1447.2,831.2 1447.5,831.2 1447.8,831.2 1448.0,831.1 1448.3,831.1 1448.6,831.1 1448.9,831.1 1449.1,831.0 1449.4,831.0 1449.7,831.0 1450.0,831.0 1450.2,831.0 1450.5,831.0"/>
<polyline points="1450.5,831.0 1450.5,875.4"/>
<polyline points="1454.6,875.9 1454.7,874.3 1454.8,872.7 1454.9,871.2 1455.0,869.7 1455.1,868.2 1455.2,866.8 1455.3,865.4 1455.4,864.1 1455.4,862.7 1455.5,861.4 1455.6,860.2 1455.7,858.9 1455.8,857.7 1455.9,856.6 1456.0,855.5 1456.1,854.4 1456.2,853.3 1456.2,852.3 1456.3,851.4 1456.4,850.5 1456.5,849.6 1456.6,848.8 1456.7,848.0 1456.8,847.3 1456.9,846.6 1456.9,846.0 1457.0,845.4 1457.1,844.8 1457.2,844.3 1457.3,843.8 1457.4,843.3 1457.5,842.8 1457.6,842.3 1457.7,841.9 1457.7,841.5 1457.8,841.1 1457.9,840.7 1458.0,840.3 1458.1,839.9 1458.2,839.6 1458.3,839.2 1458.4,838.9 1458.4,838.5 1458.5,838.2 1458.6,837.9 1458.7,837.5 1458.8,837.2 1459.1,836.2 1459.3,835.3 1459.6,834.5 1459.9,833.7 1460.1,832.9 1460.4,832.3 1460.7,831.7 1460.9,831.2 1461.2,830.7 1461.5,830.2 1461.8,829.7 1462.0,829.3 1462.3,828.9 1462.6,828.5 1462.8,828.1 1463.1,827.8 1463.4,827.4 1463.6,827.1 1463.9,826.7 1464.2,826.4 1464.4,826.1 1464.7,825.8 1465.0,825.5 1465.2,825.2 1465.5,825.0 1465.8,824.7 1466.0,824.4 1466.3,824.1 1466.6,823.9 1466.9,823.6 1467.1,823.4 1467.4,823.1 1467.7,822.9 1467.9,822.7 1468.2,822.5 1468.5,822.2 1468.7,822.0 1469.0,821.8 1469.3,821.7 1469.5,821.5 1469.8,821.3 1470.1,821.1 1470.3,821.0 1470.6,820.8 1470.9,820.6 1471.1,820.5 1471.4,820.3 1471.7,820.2 1471.9,820.0 1472.2,819.8 1472.5,819.7 1472.8,819.6 1473.0,819.4 1473.3,819.3 1473.6,819.2 1473.8,819.1 1474.1,819.0 1474.4,818.9 1474.6,818.8 1474.9,818.8 1475.2,818.7 1475.4,818.7 1475.7,818.7 1476.0,818.6 1476.2,818.6 1476.5,818.6 1476.8,818.6 1477.0,818.5 1477.3,818.5 1477.6,818.5 1477.9,818.5 1478.1,818.5 1478.4,818.4 1478.7,818.4 1478.9,818.4 1479.2,818.4 1479.5,818.4 1479.7,818.4 1480.0,818.4"/>
<polyline points="1480.0,818.4 1480.0,864.7"/>
<polyline points="1484.4,864.9 1484.5,863.0 1484.5,861.2 1484.6,859.4 1484.7,857.6 1484.8,855.8 1484.9,854.0 1484.9,852.2 1485.0,850.5 1485.1,848.8 1485.2,847.2 1485.3,845.6 1485.4,844.1 1485.4,842.8 1485.5,841.5 1485.6,840.4 1485.7,839.4 1485.8,838.6 1485.9,837.8 1485.9,837.2 1486.0,836.5 1486.1,835.9 1486.2,835.3 1486.3,834.8 1486.3,834.3 1486.4,833.8 1486.5,833.3 1486.6,832.9 1486.7,832.4 1486.8,832.0 1486.8,831.6 1486.9,831.2 1487.0,830.8 1487.1,830.3 1487.2,829.9 1487.3,829.5 1487.3,829.1 1487.4,828.8 1487.5,828.4 1487.6,828.0 1487.7,827.7 1487.7,827.3 1487.8,827.0 1487.9,826.6 1488.0,826.3 1488.1,826.0 1488.2,825.7 1488.2,825.4 1488.5,824.5 1488.7,823.8 1489.0,823.1 1489.2,822.5 1489.5,821.8 1489.7,821.3 1490.0,820.7 1490.2,820.2 1490.5,819.7 1490.7,819.2 1491.0,818.7 1491.2,818.3 1491.5,817.8 1491.7,817.4 1492.0,817.0 1492.2,816.6 1492.5,816.3 1492.7,815.9 1493.0,815.5 1493.2,815.2 1493.5,814.8 1493.7,814.5 1494.0,814.2 1494.2,813.9 1494.5,813.6 1494.7,813.3 1495.0,813.0 1495.2,812.7 1495.5,812.4 1495.7,812.1 1496.0,811.9 1496.2,811.6 1496.5,811.4 1496.7,811.1 1497.0,810.9 1497.2,810.6 1497.5,810.4 1497.7,810.2 1498.0,809.9 1498.2,809.7 1498.5,809.5 1498.7,809.2 1499.0,809.0 1499.2,808.8 1499.5,808.5 1499.7,808.3 1500.0,808.1 1500.2,807.9 1500.5,807.7 1500.7,807.5 1501.0,807.3 1501.2,807.1 1501.5,806.9 1501.7,806.7 1502.0,806.5 1502.2,806.4 1502.5,806.2 1502.7,806.1 1503.0,806.0 1503.2,805.8 1503.5,805.7 1503.7,805.6 1504.0,805.6 1504.2,805.5 1504.5,805.4 1504.7,805.3 1505.0,805.2 1505.2,805.1 1505.5,805.1 1505.7,805.0 1506.0,804.9 1506.2,804.9 1506.5,804.8 1506.7,804.7 1507.0,804.7 1507.2,804.7 1507.5,804.6 1507.7,804.6 1508.0,804.6"/>
<polyline points="1508.0,804.6 1508.0,852.7"/>
<polyline points="1512.7,851.7 1512.7,849.5 1512.8,847.5 1512.9,845.6 1513.0,843.7 1513.1,841.9 1513.1,840.1 1513.2,838.4 1513.3,836.6 1513.4,834.8 1513.5,833.1 1513.5,831.4 1513.6,829.8 1513.7,828.2 1513.8,826.6 1513.9,825.1 1513.9,823.6 1514.0,822.3 1514.1,821.0 1514.2,819.8 1514.3,818.6 1514.4,817.6 1514.4,816.7 1514.5,815.9 1514.6,815.2 1514.7,814.6 1514.8,814.0 1514.8,813.5 1514.9,813.0 1515.0,812.5 1515.1,812.0 1515.2,811.6 1515.2,811.2 1515.3,810.8 1515.4,810.4 1515.5,810.1 1515.6,809.7 1515.6,809.4 1515.7,809.1 1515.8,808.8 1515.9,808.4 1516.0,808.1 1516.1,807.8 1516.1,807.5 1516.2,807.2 1516.3,806.9 1516.4,806.6 1516.5,806.4 1516.7,805.5 1517.0,804.7 1517.2,803.9 1517.4,803.2 1517.7,802.5 1517.9,801.8 1518.2,801.2 1518.4,800.7 1518.7,800.2 1518.9,799.7 1519.2,799.3 1519.4,798.9 1519.7,798.5 1519.9,798.1 1520.2,797.7 1520.4,797.4 1520.6,797.0 1520.9,796.7 1521.1,796.4 1521.4,796.1 1521.6,795.8 1521.9,795.5 1522.1,795.2 1522.4,795.0 1522.6,794.7 1522.9,794.5 1523.1,794.2 1523.4,794.0 1523.6,793.7 1523.8,793.5 1524.1,793.2 1524.3,793.0 1524.6,792.8 1524.8,792.5 1525.1,792.3 1525.3,792.1 1525.6,791.9 1525.8,791.6 1526.1,791.4 1526.3,791.2 1526.5,791.0 1526.8,790.8 1527.0,790.7 1527.3,790.5 1527.5,790.3 1527.8,790.2 1528.0,790.0 1528.3,789.9 1528.5,789.8 1528.8,789.7 1529.0,789.6 1529.3,789.5 1529.5,789.4 1529.7,789.3 1530.0,789.3 1530.2,789.2 1530.5,789.1 1530.7,789.0 1531.0,789.0 1531.2,788.9 1531.5,788.8 1531.7,788.8 1532.0,788.7 1532.2,788.7 1532.5,788.6 1532.7,788.6 1532.9,788.5 1533.2,788.5 1533.4,788.4 1533.7,788.4 1533.9,788.3 1534.2,788.3 1534.4,788.3 1534.7,788.3 1534.9,788.2 1535.2,788.2 1535.4,788.2 1535.7,788.2 1535.9,788.2"/>
<polyline points="1535.9,788.2 1535.9,839.4"/>
<polyline points="1539.4,837.6 1539.4,835.3 1539.5,833.1 1539.6,831.0 1539.7,829.0 1539.8,827.1 1539.8,825.2 1539.9,823.4 1540.0,821.6 1540.1,819.9 1540.2,818.2 1540.2,816.5 1540.3,814.9 1540.4,813.4 1540.5,811.9 1540.6,810.5 1540.6,809.1 1540.7,807.9 1540.8,806.6 1540.9,805.5 1540.9,804.4 1541.0,803.4 1541.1,802.4 1541.2,801.4 1541.3,800.5 1541.3,799.6 1541.4,798.7 1541.5,797.8 1541.6,797.0 1541.7,796.3 1541.7,795.6 1541.8,794.9 1541.9,794.4 1542.0,793.9 1542.1,793.4 1542.1,793.0 1542.2,792.6 1542.3,792.2 1542.4,791.9 1542.5,791.5 1542.5,791.2 1542.6,790.9 1542.7,790.6 1542.8,790.3 1542.9,790.0 1542.9,789.7 1543.0,789.5 1543.1,789.2 1543.2,788.9 1543.4,788.3 1543.7,787.6 1543.9,787.0 1544.1,786.5 1544.4,785.9 1544.6,785.4 1544.9,784.9 1545.1,784.5 1545.4,784.0 1545.6,783.6 1545.8,783.2 1546.1,782.8 1546.3,782.4 1546.6,782.1 1546.8,781.7 1547.1,781.4 1547.3,781.1 1547.5,780.8 1547.8,780.5 1548.0,780.2 1548.3,779.9 1548.5,779.6 1548.7,779.3 1549.0,779.0 1549.2,778.7 1549.5,778.5 1549.7,778.2 1550.0,778.0 1550.2,777.7 1550.4,777.5 1550.7,777.2 1550.9,777.0 1551.2,776.8 1551.4,776.6 1551.7,776.4 1551.9,776.2 1552.1,776.0 1552.4,775.8 1552.6,775.6 1552.9,775.5 1553.1,775.3 1553.3,775.2 1553.6,775.0 1553.8,774.9 1554.1,774.8 1554.3,774.6 1554.6,774.5 1554.8,774.4 1555.0,774.3 1555.3,774.2 1555.5,774.1 1555.8,774.0 1556.0,773.9 1556.2,773.8 1556.5,773.6 1556.7,773.5 1557.0,773.4 1557.2,773.3 1557.5,773.2 1557.7,773.1 1557.9,773.0 1558.2,772.8 1558.4,772.7 1558.7,772.6 1558.9,772.4 1559.2,772.3 1559.4,772.1 1559.6,772.0 1559.9,771.8 1560.1,771.6 1560.4,771.5 1560.6,771.3 1560.8,771.1 1561.1,770.9 1561.3,770.8 1561.6,770.6 1561.8,770.4 1562.1,770.2 1562.3,770.0"/>
<polyline points="1562.3,770.0 1562.3,825.9"/>
<polyline points="1566.2,818.1 1566.3,816.0 1566.4,814.1 1566.4,812.3 1566.5,810.7 1566.6,809.1 1566.7,807.6 1566.8,806.1 1566.8,804.8 1566.9,803.4 1567.0,802.2 1567.1,801.0 1567.1,799.8 1567.2,798.6 1567.3,797.6 1567.4,796.5 1567.5,795.5 1567.5,794.5 1567.6,793.5 1567.7,792.6 1567.8,791.7 1567.8,790.8 1567.9,789.9 1568.0,789.1 1568.1,788.2 1568.2,787.4 1568.2,786.5 1568.3,785.7 1568.4,784.8 1568.5,784.0 1568.5,783.1 1568.6,782.2 1568.7,781.3 1568.8,780.4 1568.9,779.6 1568.9,778.7 1569.0,777.8 1569.1,777.0 1569.2,776.2 1569.2,775.5 1569.3,774.8 1569.4,774.1 1569.5,773.5 1569.5,773.0 1569.6,772.5 1569.7,772.1 1569.8,771.7 1569.9,771.4 1570.1,770.3 1570.3,769.3 1570.6,768.4 1570.8,767.6 1571.0,766.8 1571.3,766.2 1571.5,765.5 1571.7,764.9 1572.0,764.4 1572.2,763.9 1572.5,763.4 1572.7,762.9 1572.9,762.4 1573.2,762.0 1573.4,761.6 1573.6,761.2 1573.9,760.8 1574.1,760.4 1574.3,760.1 1574.6,759.7 1574.8,759.4 1575.1,759.1 1575.3,758.8 1575.5,758.5 1575.8,758.2 1576.0,757.9 1576.2,757.6 1576.5,757.3 1576.7,757.0 1576.9,756.7 1577.2,756.4 1577.4,756.1 1577.6,755.8 1577.9,755.4 1578.1,755.1 1578.4,754.8 1578.6,754.4 1578.8,754.1 1579.1,753.7 1579.3,753.4 1579.5,753.1 1579.8,752.7 1580.0,752.4 1580.2,752.1 1580.5,751.8 1580.7,751.5 1580.9,751.2 1581.2,751.0 1581.4,750.7 1581.7,750.5 1581.9,750.3 1582.1,750.1 1582.4,750.0 1582.6,749.8 1582.8,749.6 1583.1,749.5 1583.3,749.3 1583.5,749.1 1583.8,749.0 1584.0,748.8 1584.3,748.7 1584.5,748.5 1584.7,748.4 1585.0,748.2 1585.2,748.1 1585.4,748.0 1585.7,747.8 1585.9,747.7 1586.1,747.6 1586.4,747.5 1586.6,747.4 1586.8,747.3 1587.1,747.3 1587.3,747.2 1587.6,747.1 1587.8,747.1 1588.0,747.0 1588.3,747.0 1588.5,747.0"/>
<polyline points="1588.5,747.0 1588.5,809.4"/>
<polyline points="1591.7,797.4 1591.8,795.8 1591.9,794.2 1592.0,792.8 1592.0,791.4 1592.1,790.0 1592.2,788.7 1592.3,787.4 1592.3,786.2 1592.4,785.0 1592.5,783.8 1592.6,782.7 1592.6,781.6 1592.7,780.6 1592.8,779.5 1592.9,778.5 1593.0,777.6 1593.0,776.6 1593.1,775.7 1593.2,774.8 1593.3,773.9 1593.3,773.1 1593.4,772.3 1593.5,771.4 1593.6,770.6 1593.6,769.9 1593.7,769.1 1593.8,768.3 1593.9,767.6 1594.0,766.9 1594.0,766.1 1594.1,765.4 1594.2,764.7 1594.3,764.0 1594.3,763.3 1594.4,762.7 1594.5,762.0 1594.6,761.4 1594.6,760.8 1594.7,760.2 1594.8,759.6 1594.9,759.0 1594.9,758.5 1595.0,757.9 1595.1,757.4 1595.3,755.8 1595.6,754.3 1595.8,752.9 1596.0,751.5 1596.3,750.2 1596.5,748.9 1596.7,747.7 1597.0,746.7 1597.2,745.7 1597.4,744.8 1597.7,743.9 1597.9,743.1 1598.1,742.3 1598.4,741.5 1598.6,740.8 1598.8,740.1 1599.1,739.4 1599.3,738.8 1599.5,738.1 1599.8,737.5 1600.0,736.9 1600.2,736.2 1600.5,735.6 1600.7,735.0 1600.9,734.4 1601.2,733.9 1601.4,733.3 1601.6,732.7 1601.9,732.2 1602.1,731.6 1602.3,731.1 1602.6,730.6 1602.8,730.1 1603.0,729.6 1603.3,729.1 1603.5,728.7 1603.7,728.2 1604.0,727.8 1604.2,727.4 1604.4,727.0 1604.6,726.6 1604.9,726.2 1605.1,725.9 1605.3,725.5 1605.6,725.1 1605.8,724.8 1606.0,724.4 1606.3,724.1 1606.5,723.7 1606.7,723.4 1607.0,723.1 1607.2,722.8 1607.4,722.5 1607.7,722.2 1607.9,722.0 1608.1,721.7 1608.4,721.5 1608.6,721.3 1608.8,721.1 1609.1,720.9 1609.3,720.7 1609.5,720.5 1609.8,720.4 1610.0,720.2 1610.2,720.0 1610.5,719.9 1610.7,719.7 1610.9,719.6 1611.2,719.4 1611.4,719.3 1611.6,719.2 1611.9,719.0 1612.1,718.9 1612.3,718.8 1612.6,718.7 1612.8,718.7 1613.0,718.6 1613.3,718.5 1613.5,718.5"/>
<polyline points="1613.5,718.5 1613.5,788.9"/>
<polyline points="1616.8,772.1 1616.9,770.4 1617.0,768.8 1617.1,767.3 1617.1,765.8 1617.2,764.4 1617.3,763.1 1617.4,761.8 1617.4,760.5 1617.5,759.3 1617.6,758.1 1617.7,757.0 1617.7,755.8 1617.8,754.8 1617.9,753.7 1618.0,752.7 1618.0,751.7 1618.1,750.8 1618.2,749.8 1618.3,748.9 1618.3,748.0 1618.4,747.2 1618.5,746.3 1618.6,745.4 1618.6,744.6 1618.7,743.8 1618.8,743.0 1618.9,742.1 1618.9,741.3 1619.0,740.5 1619.1,739.7 1619.2,738.9 1619.2,738.1 1619.3,737.2 1619.4,736.4 1619.5,735.6 1619.5,734.8 1619.6,733.9 1619.7,733.1 1619.8,732.3 1619.8,731.5 1619.9,730.8 1620.0,730.0 1620.2,728.0 1620.4,726.3 1620.7,725.0 1620.9,723.8 1621.1,722.6 1621.3,721.6 1621.6,720.6 1621.8,719.7 1622.0,718.9 1622.2,718.1 1622.5,717.4 1622.7,716.6 1622.9,715.9 1623.2,715.2 1623.4,714.4 1623.6,713.7 1623.8,713.0 1624.1,712.2 1624.3,711.5 1624.5,710.8 1624.7,710.2 1625.0,709.5 1625.2,708.9 1625.4,708.2 1625.7,707.6 1625.9,707.0 1626.1,706.4 1626.3,705.8 1626.6,705.2 1626.8,704.7 1627.0,704.1 1627.2,703.5 1627.5,703.0 1627.7,702.5 1627.9,702.0 1628.1,701.5 1628.4,701.0 1628.6,700.5 1628.8,700.0 1629.1,699.5 1629.3,699.0 1629.5,698.6 1629.7,698.1 1630.0,697.7 1630.2,697.2 1630.4,696.8 1630.6,696.4 1630.9,695.9 1631.1,695.5 1631.3,695.1 1631.5,694.7 1631.8,694.3 1632.0,693.9 1632.2,693.5 1632.5,693.1 1632.7,692.7 1632.9,692.3 1633.1,691.9 1633.4,691.5 1633.6,691.1 1633.8,690.7 1634.0,690.3 1634.3,690.0 1634.5,689.6 1634.7,689.2 1635.0,688.9 1635.2,688.5 1635.4,688.2 1635.6,687.8 1635.9,687.4 1636.1,687.1 1636.3,686.8 1636.5,686.4 1636.8,686.1 1637.0,685.8 1637.2,685.4 1637.4,685.1 1637.7,684.8 1637.9,684.5"/>
<polyline points="1637.9,684.5 1637.9,764.4"/>
<polyline points="1641.5,734.0 1641.5,730.5 1641.6,727.3 1641.7,724.3 1641.7,721.5 1641.8,718.9 1641.9,716.5 1642.0,714.4 1642.0,712.6 1642.1,711.0 1642.2,709.7 1642.2,708.5 1642.3,707.4 1642.4,706.3 1642.5,705.2 1642.5,704.2 1642.6,703.3 1642.7,702.3 1642.7,701.4 1642.8,700.6 1642.9,699.8 1643.0,699.0 1643.0,698.2 1643.1,697.5 1643.2,696.8 1643.2,696.1 1643.3,695.5 1643.4,694.8 1643.5,694.2 1643.5,693.6 1643.6,693.1 1643.7,692.5 1643.7,692.0 1643.8,691.5 1643.9,691.0 1644.0,690.5 1644.0,690.0 1644.1,689.5 1644.2,689.0 1644.2,688.6 1644.3,688.1 1644.4,687.6 1644.4,687.2 1644.5,686.7 1644.6,686.2 1644.7,685.7 1644.9,684.3 1645.1,683.0 1645.3,681.6 1645.5,680.3 1645.7,679.1 1646.0,677.9 1646.2,676.7 1646.4,675.6 1646.6,674.5 1646.8,673.4 1647.0,672.4 1647.2,671.4 1647.5,670.4 1647.7,669.4 1647.9,668.5 1648.1,667.6 1648.3,666.7 1648.5,665.9 1648.8,665.0 1649.0,664.2 1649.2,663.4 1649.4,662.6 1649.6,661.9 1649.8,661.1 1650.1,660.4 1650.3,659.6 1650.5,658.9 1650.7,658.2 1650.9,657.5 1651.1,656.8 1651.3,656.2 1651.6,655.5 1651.8,654.8 1652.0,654.2 1652.2,653.6 1652.4,653.0 1652.6,652.4 1652.9,651.8 1653.1,651.2 1653.3,650.6 1653.5,650.1 1653.7,649.5 1653.9,649.0 1654.2,648.5 1654.4,648.0 1654.6,647.5 1654.8,647.0 1655.0,646.5 1655.2,646.0 1655.4,645.6 1655.7,645.1 1655.9,644.7 1656.1,644.3 1656.3,643.8 1656.5,643.4 1656.7,643.0 1657.0,642.6 1657.2,642.2 1657.4,641.8 1657.6,641.4 1657.8,641.1 1658.0,640.7 1658.2,640.3 1658.5,640.0 1658.7,639.6 1658.9,639.3 1659.1,638.9 1659.3,638.6 1659.5,638.3 1659.8,638.0 1660.0,637.7 1660.2,637.4 1660.4,637.1 1660.6,636.8 1660.8,636.5 1661.1,636.3 1661.3,636.1 1661.5,635.8 1661.7,635.6"/>
<polyline points="1661.7,635.6 1661.7,732.2"/>
<polyline points="1665.2,682.6 1665.2,681.0 1665.3,679.4 1665.4,677.8 1665.5,676.2 1665.5,674.7 1665.6,673.3 1665.7,671.9 1665.7,670.5 1665.8,669.2 1665.9,667.9 1666.0,666.7 1666.0,665.5 1666.1,664.4 1666.2,663.3 1666.3,662.2 1666.3,661.3 1666.4,660.3 1666.5,659.4 1666.5,658.5 1666.6,657.6 1666.7,656.7 1666.8,655.9 1666.8,655.1 1666.9,654.3 1667.0,653.5 1667.0,652.7 1667.1,652.0 1667.2,651.2 1667.3,650.5 1667.3,649.8 1667.4,649.1 1667.5,648.4 1667.5,647.8 1667.6,647.1 1667.8,645.2 1668.1,643.3 1668.3,641.5 1668.5,639.7 1668.7,638.0 1668.9,636.2 1669.2,634.4 1669.4,632.7 1669.6,631.0 1669.8,629.3 1670.0,627.6 1670.2,626.0 1670.5,624.3 1670.7,622.8 1670.9,621.2 1671.1,619.7 1671.3,618.2 1671.6,616.7 1671.8,615.2 1672.0,613.8 1672.2,612.4 1672.4,611.1 1672.7,609.7 1672.9,608.4 1673.1,607.2 1673.3,605.9 1673.5,604.7 1673.7,603.6 1674.0,602.4 1674.2,601.3 1674.4,600.2 1674.6,599.2 1674.8,598.1 1675.1,597.1 1675.3,596.1 1675.5,595.1 1675.7,594.1 1675.9,593.1 1676.2,592.2 1676.4,591.2 1676.6,590.3 1676.8,589.4 1677.0,588.5 1677.2,587.6 1677.5,586.8 1677.7,585.9 1677.9,585.0 1678.1,584.2 1678.3,583.4 1678.6,582.5 1678.8,581.7 1679.0,580.9 1679.2,580.0 1679.4,579.2 1679.7,578.4 1679.9,577.6 1680.1,576.8 1680.3,576.0 1680.5,575.2 1680.7,574.4 1681.0,573.6 1681.2,572.8 1681.4,572.0 1681.6,571.3 1681.8,570.5 1682.1,569.7 1682.3,569.0 1682.5,568.3 1682.7,567.5 1682.9,566.8 1683.2,566.1 1683.4,565.4 1683.6,564.7 1683.8,564.0 1684.0,563.3 1684.2,562.6 1684.5,561.9 1684.7,561.3 1684.9,560.6"/>
<polyline points="1684.9,560.6 1684.9,685.0"/>
<polyline points="1686.3,727.1 1687.2,690.0 1687.7,650.0 1688.3,610.0 1689.2,580.0 1690.5,556.0 1692.5,532.0 1694.6,514.0 1696.7,499.0 1699.5,478.0 1702.5,455.0 1705.0,432.0 1707.4,413.0 1710.0,378.0 1713.0,331.0 1716.2,275.0 1719.0,220.0 1721.0,175.0 1722.4,143.0 1723.4,120.0"/>
<polyline points="1708.4,413.0 1708.4,609.0 1707.4,610.5"/>
<polyline points="1709.7,440.0 1709.7,602.0"/>
</g>
<path d="M376.1 1015.8h0M376.1 1018.0h0M376.2 1020.2h0M376.3 1022.4h0M376.4 1024.6h0M376.6 1026.8h0M376.9 1029.0h0M377.2 1031.2h0M377.5 1033.3h0M377.9 1035.5h0M378.3 1037.6h0M378.8 1039.8h0M379.3 1041.9h0M379.9 1044.1h0M380.5 1046.2h0M381.2 1048.3h0M381.9 1050.3h0M382.7 1052.4h0M442.3 1004.4h0M442.3 1006.6h0M442.4 1008.8h0M442.5 1011.0h0M442.6 1013.2h0M442.7 1015.4h0M442.9 1017.6h0M443.1 1019.8h0M443.4 1022.0h0M443.7 1024.1h0M444.0 1026.3h0M444.4 1028.5h0M444.8 1030.6h0M445.2 1032.8h0M445.7 1034.9h0M446.3 1037.1h0M446.8 1039.2h0M447.5 1041.3h0M448.1 1043.4h0M448.8 1045.5h0M510.7 994.3h0M510.9 996.5h0M511.1 998.7h0M511.4 1000.9h0M511.6 1003.0h0M511.9 1005.2h0M512.2 1007.4h0M512.4 1009.6h0M512.7 1011.8h0M513.0 1014.0h0M513.3 1016.1h0M513.6 1018.3h0M513.9 1020.5h0M514.2 1022.7h0M514.5 1024.9h0M514.9 1027.0h0M515.2 1029.2h0M515.5 1031.4h0M515.8 1033.6h0M516.1 1035.7h0M516.5 1037.9h0M516.8 1040.1h0M578.6 984.7h0M578.8 986.9h0M579.0 989.1h0M579.2 991.3h0M579.4 993.5h0M579.6 995.7h0M579.8 997.9h0M580.0 1000.1h0M580.3 1002.3h0M580.5 1004.5h0M580.7 1006.6h0M581.0 1008.8h0M581.2 1011.0h0M581.5 1013.2h0M581.7 1015.4h0M582.0 1017.6h0M582.2 1019.8h0M582.5 1021.9h0M582.7 1024.1h0M583.0 1026.3h0M583.3 1028.5h0M583.5 1030.7h0M583.8 1032.9h0M584.1 1035.1h0M645.7 977.2h0M645.8 979.8h0M646.0 982.4h0M646.2 985.0h0M646.4 987.6h0M646.6 990.2h0M646.8 992.8h0M647.0 995.4h0M647.2 998.0h0M647.5 1000.6h0M647.7 1003.2h0M647.9 1005.8h0M648.2 1008.3h0M648.4 1010.9h0M648.7 1013.5h0M648.9 1016.1h0M649.2 1018.7h0M649.4 1021.3h0M649.7 1023.9h0M649.9 1026.5h0M650.2 1029.0h0M709.5 969.7h0M709.6 972.3h0M709.8 974.9h0M710.0 977.5h0M710.2 980.1h0M710.4 982.7h0M710.6 985.3h0M710.8 987.9h0M711.0 990.5h0M711.2 993.1h0M711.5 995.7h0M711.7 998.3h0M711.9 1000.8h0M712.2 1003.4h0M712.4 1006.0h0M712.6 1008.6h0M712.9 1011.2h0M713.1 1013.8h0M713.4 1016.4h0M713.6 1019.0h0M713.9 1021.6h0M714.1 1024.1h0M771.4 962.2h0M771.5 964.8h0M771.7 967.4h0M771.8 970.0h0M772.0 972.6h0M772.2 975.2h0M772.4 977.8h0M772.6 980.4h0M772.8 982.9h0M773.0 985.5h0M773.2 988.1h0M773.4 990.7h0M773.6 993.3h0M773.8 995.9h0M774.1 998.5h0M774.3 1001.1h0M774.5 1003.7h0M774.7 1006.3h0M775.0 1008.9h0M775.2 1011.4h0M775.4 1014.0h0M775.6 1016.6h0M775.9 1019.2h0M830.4 955.0h0M830.6 957.6h0M830.7 960.2h0M830.9 962.8h0M831.0 965.4h0M831.2 968.0h0M831.3 970.6h0M831.5 973.2h0M831.7 975.8h0M831.8 978.4h0M832.0 981.0h0M832.2 983.5h0M832.4 986.1h0M832.6 988.7h0M832.8 991.3h0M833.0 993.9h0M833.1 996.5h0M833.3 999.1h0M833.5 1001.7h0M833.7 1004.3h0M833.9 1006.9h0M834.1 1009.5h0M834.3 1012.1h0M834.5 1014.7h0M886.4 948.4h0M886.6 951.0h0M886.7 953.6h0M886.8 956.2h0M887.0 958.8h0M887.1 961.4h0M887.3 964.0h0M887.4 966.6h0M887.6 969.2h0M887.7 971.8h0M887.9 974.4h0M888.1 977.0h0M888.2 979.5h0M888.4 982.1h0M888.6 984.7h0M888.8 987.3h0M889.0 989.9h0M889.1 992.5h0M889.3 995.1h0M889.5 997.7h0M889.7 1000.3h0M889.9 1002.9h0M890.1 1005.5h0M890.2 1008.1h0M940.3 942.0h0M940.4 944.6h0M940.6 947.2h0M940.7 949.8h0M940.8 952.4h0M940.9 955.0h0M941.1 957.6h0M941.2 960.2h0M941.4 962.8h0M941.5 965.4h0M941.7 968.0h0M941.8 970.6h0M942.0 973.2h0M942.1 975.8h0M942.3 978.3h0M942.4 980.9h0M942.6 983.5h0M942.8 986.1h0M942.9 988.7h0M943.1 991.3h0M943.2 993.9h0M943.4 996.5h0M943.6 999.1h0M943.7 1001.7h0M943.9 1004.3h0M991.3 934.5h0M991.4 937.1h0M991.5 939.7h0M991.6 942.3h0M991.8 944.9h0M991.9 947.5h0M992.0 950.1h0M992.1 952.7h0M992.3 955.3h0M992.4 957.9h0M992.5 960.5h0M992.7 963.1h0M992.8 965.7h0M993.0 968.3h0M993.1 970.9h0M993.2 973.5h0M993.4 976.0h0M993.5 978.6h0M993.7 981.2h0M993.8 983.8h0M994.0 986.4h0M994.1 989.0h0M994.3 991.6h0M994.5 994.2h0M994.6 996.8h0M994.8 999.4h0M1039.8 927.2h0M1039.9 929.8h0M1040.0 932.4h0M1040.1 935.0h0M1040.2 937.6h0M1040.3 940.2h0M1040.5 942.8h0M1040.6 945.4h0M1040.7 948.0h0M1040.8 950.6h0M1041.0 953.2h0M1041.1 955.8h0M1041.2 958.4h0M1041.4 961.0h0M1041.5 963.6h0M1041.6 966.2h0M1041.8 968.8h0M1041.9 971.4h0M1042.0 974.0h0M1042.2 976.6h0M1042.3 979.2h0M1042.5 981.8h0M1042.6 984.4h0M1042.8 987.0h0M1042.9 989.6h0M1043.1 992.2h0M1086.5 920.3h0M1086.6 922.9h0M1086.7 925.5h0M1086.8 928.1h0M1086.8 930.7h0M1086.9 933.3h0M1087.0 935.9h0M1087.1 938.5h0M1087.2 941.1h0M1087.3 943.7h0M1087.4 946.3h0M1087.5 948.9h0M1087.6 951.5h0M1087.7 954.1h0M1087.8 956.7h0M1087.9 959.3h0M1088.0 961.9h0M1088.1 964.5h0M1088.2 967.1h0M1088.4 969.7h0M1088.5 972.3h0M1088.6 974.9h0M1088.7 977.5h0M1088.8 980.1h0M1088.9 982.7h0M1089.0 985.3h0M1089.1 987.8h0M1130.6 911.8h0M1130.7 914.4h0M1130.7 917.0h0M1130.8 919.6h0M1130.9 922.2h0M1130.9 924.8h0M1131.0 927.4h0M1131.1 930.0h0M1131.2 932.6h0M1131.2 935.2h0M1131.3 937.8h0M1131.4 940.4h0M1131.5 943.0h0M1131.6 945.6h0M1131.7 948.2h0M1131.7 950.8h0M1131.8 953.4h0M1131.9 956.0h0M1132.0 958.6h0M1132.1 961.2h0M1132.2 963.8h0M1132.3 966.4h0M1132.4 969.0h0M1132.4 971.6h0M1132.5 974.2h0M1132.6 976.8h0M1132.7 979.4h0M1132.8 982.0h0M1172.5 905.4h0M1172.6 908.0h0M1172.6 910.6h0M1172.7 913.2h0M1172.8 915.8h0M1172.9 918.4h0M1172.9 921.0h0M1173.0 923.6h0M1173.1 926.2h0M1173.2 928.8h0M1173.3 931.4h0M1173.4 934.0h0M1173.4 936.6h0M1173.5 939.2h0M1173.6 941.8h0M1173.7 944.4h0M1173.8 947.0h0M1173.9 949.6h0M1174.0 952.2h0M1174.1 954.8h0M1174.2 957.4h0M1174.3 960.0h0M1174.4 962.6h0M1174.4 965.2h0M1174.5 967.8h0M1174.6 970.4h0M1174.7 973.0h0M1174.8 975.6h0M1174.9 978.2h0M1212.8 897.6h0M1212.9 900.2h0M1212.9 902.8h0M1213.0 905.4h0M1213.0 908.0h0M1213.1 910.6h0M1213.2 913.2h0M1213.2 915.8h0M1213.3 918.4h0M1213.4 921.0h0M1213.5 923.6h0M1213.5 926.2h0M1213.6 928.8h0M1213.7 931.4h0M1213.8 934.0h0M1213.8 936.6h0M1213.9 939.2h0M1214.0 941.8h0M1214.1 944.4h0M1214.1 947.0h0M1214.2 949.6h0M1214.3 952.2h0M1214.4 954.8h0M1214.5 957.4h0M1214.6 960.0h0M1214.6 962.6h0M1214.7 965.2h0M1214.8 967.8h0M1214.9 970.4h0M1215.0 973.0h0M1251.4 889.6h0M1251.5 892.2h0M1251.5 894.8h0M1251.6 897.4h0M1251.6 900.0h0M1251.7 902.6h0M1251.7 905.2h0M1251.8 907.8h0M1251.9 910.4h0M1251.9 913.0h0M1252.0 915.6h0M1252.0 918.2h0M1252.1 920.8h0M1252.2 923.4h0M1252.2 926.0h0M1252.3 928.6h0M1252.4 931.2h0M1252.4 933.8h0M1252.5 936.4h0M1252.6 939.0h0M1252.7 941.6h0M1252.7 944.2h0M1252.8 946.8h0M1252.9 949.4h0M1252.9 952.0h0M1253.0 954.6h0M1253.1 957.2h0M1253.2 959.8h0M1253.2 962.4h0M1253.3 965.0h0M1253.4 967.6h0M1288.3 881.6h0M1288.4 884.2h0M1288.4 886.8h0M1288.4 889.4h0M1288.5 892.0h0M1288.5 894.6h0M1288.6 897.2h0M1288.6 899.8h0M1288.7 902.4h0M1288.7 905.0h0M1288.8 907.6h0M1288.8 910.2h0M1288.9 912.8h0M1288.9 915.4h0M1289.0 918.0h0M1289.1 920.6h0M1289.1 923.2h0M1289.2 925.8h0M1289.2 928.4h0M1289.3 931.0h0M1289.3 933.6h0M1289.4 936.2h0M1289.5 938.8h0M1289.5 941.4h0M1289.6 944.0h0M1289.6 946.6h0M1289.7 949.2h0M1289.8 951.8h0M1289.8 954.4h0M1289.9 957.0h0M1289.9 959.6h0M1323.9 872.6h0M1323.9 875.2h0M1324.0 877.8h0M1324.0 880.4h0M1324.1 883.0h0M1324.1 885.6h0M1324.1 888.2h0M1324.2 890.8h0M1324.2 893.4h0M1324.3 896.0h0M1324.3 898.6h0M1324.4 901.2h0M1324.4 903.8h0M1324.4 906.4h0M1324.5 909.0h0M1324.5 911.6h0M1324.6 914.2h0M1324.6 916.8h0M1324.7 919.4h0M1324.7 922.0h0M1324.8 924.6h0M1324.8 927.2h0M1324.9 929.8h0M1324.9 932.4h0M1325.0 935.0h0M1325.0 937.6h0M1325.1 940.2h0M1325.1 942.8h0M1325.2 945.4h0M1325.2 948.0h0M1325.3 950.6h0M1325.3 953.2h0M1325.4 955.8h0M1358.0 864.0h0M1358.0 866.6h0M1358.1 869.2h0M1358.1 871.8h0M1358.2 874.4h0M1358.2 877.0h0M1358.2 879.6h0M1358.3 882.2h0M1358.3 884.8h0M1358.4 887.4h0M1358.4 890.0h0M1358.4 892.6h0M1358.5 895.2h0M1358.5 897.8h0M1358.6 900.4h0M1358.6 903.0h0M1358.7 905.6h0M1358.7 908.2h0M1358.8 910.8h0M1358.8 913.4h0M1358.9 916.0h0M1358.9 918.6h0M1359.0 921.2h0M1359.0 923.8h0M1359.1 926.4h0M1359.1 929.0h0M1359.2 931.6h0M1359.2 934.2h0M1359.3 936.8h0M1359.3 939.4h0M1359.4 942.0h0M1359.4 944.6h0M1359.5 947.2h0M1390.5 853.5h0M1390.6 856.1h0M1390.6 858.7h0M1390.6 861.3h0M1390.7 863.9h0M1390.7 866.5h0M1390.8 869.1h0M1390.8 871.7h0M1390.9 874.3h0M1391.0 876.9h0M1391.0 879.5h0M1391.1 882.1h0M1391.1 884.7h0M1391.2 887.3h0M1391.2 889.9h0M1391.3 892.5h0M1391.4 895.1h0M1391.4 897.7h0M1391.5 900.3h0M1391.5 902.9h0M1391.6 905.5h0M1391.7 908.1h0M1391.7 910.7h0M1391.8 913.3h0M1391.8 915.9h0M1391.9 918.5h0M1392.0 921.1h0M1392.0 923.7h0M1392.1 926.3h0M1392.2 928.9h0M1392.2 931.5h0M1392.3 934.1h0M1392.4 936.7h0M1392.4 939.3h0M1422.5 842.5h0M1422.5 845.1h0M1422.5 847.7h0M1422.6 850.3h0M1422.6 852.9h0M1422.6 855.5h0M1422.6 858.1h0M1422.7 860.7h0M1422.7 863.3h0M1422.7 865.9h0M1422.7 868.5h0M1422.8 871.1h0M1422.8 873.7h0M1422.8 876.3h0M1422.9 878.9h0M1422.9 881.5h0M1422.9 884.1h0M1422.9 886.7h0M1423.0 889.3h0M1423.0 891.9h0M1423.0 894.5h0M1423.1 897.1h0M1423.1 899.7h0M1423.1 902.3h0M1423.1 904.9h0M1423.2 907.5h0M1423.2 910.1h0M1423.2 912.7h0M1423.3 915.3h0M1423.3 917.9h0M1423.3 920.5h0M1423.4 923.1h0M1423.4 925.7h0M1423.4 928.3h0M1423.5 930.9h0M1423.5 933.5h0M1452.5 832.0h0M1452.5 834.6h0M1452.5 837.2h0M1452.6 839.8h0M1452.6 842.4h0M1452.6 845.0h0M1452.6 847.6h0M1452.7 850.2h0M1452.7 852.8h0M1452.7 855.4h0M1452.7 858.0h0M1452.8 860.6h0M1452.8 863.2h0M1452.8 865.8h0M1452.8 868.4h0M1452.9 871.0h0M1452.9 873.6h0M1452.9 876.2h0M1453.0 878.8h0M1453.0 881.4h0M1453.0 884.0h0M1453.0 886.6h0M1453.1 889.2h0M1453.1 891.8h0M1453.1 894.4h0M1453.2 897.0h0M1453.2 899.6h0M1453.2 902.2h0M1453.3 904.8h0M1453.3 907.4h0M1453.3 910.0h0M1453.3 912.6h0M1453.4 915.2h0M1453.4 917.8h0M1453.4 920.4h0M1453.5 923.0h0M1482.0 819.4h0M1482.0 822.0h0M1482.1 824.6h0M1482.1 827.2h0M1482.1 829.8h0M1482.1 832.4h0M1482.2 835.0h0M1482.2 837.6h0M1482.2 840.2h0M1482.3 842.8h0M1482.3 845.4h0M1482.3 848.0h0M1482.4 850.6h0M1482.4 853.2h0M1482.4 855.8h0M1482.5 858.4h0M1482.5 861.0h0M1482.5 863.6h0M1482.6 866.2h0M1482.6 868.8h0M1482.6 871.4h0M1482.7 874.0h0M1482.7 876.6h0M1482.8 879.2h0M1482.8 881.8h0M1482.8 884.4h0M1482.9 887.0h0M1482.9 889.6h0M1482.9 892.2h0M1483.0 894.8h0M1483.0 897.4h0M1483.1 900.0h0M1483.1 902.6h0M1483.1 905.2h0M1483.2 907.8h0M1483.2 910.4h0M1483.3 913.0h0M1510.0 805.6h0M1510.0 808.2h0M1510.1 810.8h0M1510.1 813.4h0M1510.1 816.0h0M1510.2 818.6h0M1510.2 821.2h0M1510.2 823.8h0M1510.3 826.4h0M1510.3 829.0h0M1510.4 831.6h0M1510.4 834.2h0M1510.4 836.8h0M1510.5 839.4h0M1510.5 842.0h0M1510.6 844.6h0M1510.6 847.2h0M1510.6 849.8h0M1510.7 852.4h0M1510.7 855.0h0M1510.8 857.6h0M1510.8 860.2h0M1510.8 862.8h0M1510.9 865.4h0M1510.9 868.0h0M1511.0 870.6h0M1511.0 873.2h0M1511.1 875.8h0M1511.1 878.4h0M1511.2 881.0h0M1511.2 883.6h0M1511.3 886.2h0M1511.3 888.8h0M1511.3 891.4h0M1511.4 894.0h0M1511.4 896.6h0M1511.5 899.2h0M1511.5 901.8h0M1511.6 904.4h0M1537.9 789.2h0M1537.9 791.8h0M1537.9 794.4h0M1537.9 797.0h0M1537.9 799.6h0M1537.9 802.2h0M1538.0 804.8h0M1538.0 807.4h0M1538.0 810.0h0M1538.0 812.6h0M1538.0 815.2h0M1538.0 817.8h0M1538.0 820.4h0M1538.0 823.0h0M1538.1 825.6h0M1538.1 828.2h0M1538.1 830.8h0M1538.1 833.4h0M1538.1 836.0h0M1538.1 838.6h0M1538.1 841.2h0M1538.1 843.8h0M1538.2 846.4h0M1538.2 849.0h0M1538.2 851.6h0M1538.2 854.2h0M1538.2 856.8h0M1538.2 859.4h0M1538.2 862.0h0M1538.2 864.6h0M1538.3 867.2h0M1538.3 869.8h0M1538.3 872.4h0M1538.3 875.0h0M1538.3 877.6h0M1538.3 880.2h0M1538.3 882.8h0M1538.4 885.4h0M1538.4 888.0h0M1538.4 890.6h0M1538.4 893.2h0M1564.3 771.0h0M1564.3 773.6h0M1564.3 776.2h0M1564.3 778.8h0M1564.4 781.4h0M1564.4 784.0h0M1564.4 786.6h0M1564.4 789.2h0M1564.4 791.8h0M1564.5 794.4h0M1564.5 797.0h0M1564.5 799.6h0M1564.5 802.2h0M1564.5 804.8h0M1564.6 807.4h0M1564.6 810.0h0M1564.6 812.6h0M1564.6 815.2h0M1564.6 817.8h0M1564.7 820.4h0M1564.7 823.0h0M1564.7 825.6h0M1564.7 828.2h0M1564.8 830.8h0M1564.8 833.4h0M1564.8 836.0h0M1564.8 838.6h0M1564.8 841.2h0M1564.9 843.8h0M1564.9 846.4h0M1564.9 849.0h0M1564.9 851.6h0M1565.0 854.2h0M1565.0 856.8h0M1565.0 859.4h0M1565.0 862.0h0M1565.1 864.6h0M1565.1 867.2h0M1565.1 869.8h0M1565.1 872.4h0M1565.2 875.0h0M1565.2 877.6h0M1590.5 748.0h0M1590.5 750.6h0M1590.5 753.2h0M1590.5 755.8h0M1590.5 758.4h0M1590.5 761.0h0M1590.5 763.6h0M1590.5 766.2h0M1590.5 768.8h0M1590.5 771.4h0M1590.5 774.0h0M1590.5 776.6h0M1590.5 779.2h0M1590.5 781.8h0M1590.5 784.4h0M1590.5 787.0h0M1590.5 789.6h0M1590.5 792.2h0M1590.5 794.8h0M1590.5 797.4h0M1590.5 800.0h0M1590.5 802.6h0M1590.5 805.2h0M1590.5 807.8h0M1590.5 810.4h0M1590.5 813.0h0M1590.5 815.6h0M1590.5 818.2h0M1590.5 820.8h0M1590.5 823.4h0M1590.5 826.0h0M1590.5 828.6h0M1590.5 831.2h0M1590.5 833.8h0M1590.5 836.4h0M1590.5 839.0h0M1590.5 841.6h0M1590.5 844.2h0M1590.5 846.8h0M1590.5 849.4h0M1590.5 852.0h0M1590.5 854.6h0M1590.5 857.2h0M1590.5 859.8h0M1590.5 862.4h0M1615.5 719.5h0M1615.5 722.1h0M1615.5 724.7h0M1615.5 727.3h0M1615.5 729.9h0M1615.5 732.5h0M1615.5 735.1h0M1615.5 737.7h0M1615.5 740.3h0M1615.5 742.9h0M1615.5 745.5h0M1615.5 748.1h0M1615.5 750.7h0M1615.5 753.3h0M1615.5 755.9h0M1615.5 758.5h0M1615.5 761.1h0M1615.5 763.7h0M1615.5 766.3h0M1615.5 768.9h0M1615.5 771.5h0M1615.5 774.1h0M1615.5 776.7h0M1615.5 779.3h0M1615.5 781.9h0M1615.5 784.5h0M1615.5 787.1h0M1615.5 789.7h0M1615.5 792.3h0M1615.5 794.9h0M1615.5 797.5h0M1615.5 800.1h0M1615.5 802.7h0M1615.5 805.3h0M1615.5 807.9h0M1615.5 810.5h0M1615.5 813.1h0M1615.5 815.7h0M1615.5 818.3h0M1615.5 820.9h0M1615.5 823.5h0M1615.5 826.1h0M1615.5 828.7h0M1615.5 831.3h0M1615.5 833.9h0M1615.5 836.5h0M1615.5 839.1h0M1615.5 841.7h0M1615.5 844.3h0M1639.9 685.5h0M1639.9 688.1h0M1639.9 690.7h0M1639.9 693.3h0M1639.9 695.9h0M1639.9 698.5h0M1639.9 701.1h0M1640.0 703.7h0M1640.0 706.3h0M1640.0 708.9h0M1640.0 711.5h0M1640.0 714.1h0M1640.0 716.7h0M1640.0 719.3h0M1640.0 721.9h0M1640.0 724.5h0M1640.0 727.1h0M1640.0 729.7h0M1640.1 732.3h0M1640.1 734.9h0M1640.1 737.5h0M1640.1 740.1h0M1640.1 742.7h0M1640.1 745.3h0M1640.1 747.9h0M1640.1 750.5h0M1640.1 753.1h0M1640.1 755.7h0M1640.1 758.3h0M1640.2 760.9h0M1640.2 763.5h0M1640.2 766.1h0M1640.2 768.7h0M1640.2 771.3h0M1640.2 773.9h0M1640.2 776.5h0M1640.2 779.1h0M1640.2 781.7h0M1640.3 784.3h0M1640.3 786.9h0M1640.3 789.5h0M1640.3 792.1h0M1640.3 794.7h0M1640.3 797.3h0M1640.3 799.9h0M1640.3 802.5h0M1640.3 805.1h0M1640.3 807.7h0M1640.4 810.3h0M1640.4 812.9h0M1640.4 815.5h0M1640.4 818.1h0M1663.7 636.6h0M1663.7 639.2h0M1663.7 641.8h0M1663.7 644.4h0M1663.7 647.0h0M1663.7 649.6h0M1663.7 652.2h0M1663.7 654.8h0M1663.7 657.4h0M1663.7 660.0h0M1663.6 662.6h0M1663.6 665.2h0M1663.6 667.8h0M1663.6 670.4h0M1663.6 673.0h0M1663.6 675.6h0M1663.6 678.2h0M1663.6 680.8h0M1663.6 683.4h0M1663.6 686.0h0M1663.6 688.6h0M1663.6 691.2h0M1663.6 693.8h0M1663.6 696.4h0M1663.6 699.0h0M1663.5 701.6h0M1663.5 704.2h0M1663.5 706.8h0M1663.5 709.4h0M1663.5 712.0h0M1663.5 714.6h0M1663.5 717.2h0M1663.5 719.8h0M1663.5 722.4h0M1663.5 725.0h0M1663.5 727.6h0M1663.5 730.2h0M1663.5 732.8h0M1663.4 735.4h0M1663.4 738.0h0M1663.4 740.6h0M1663.4 743.2h0M1663.4 745.8h0M1663.4 748.4h0M1663.4 751.0h0M1663.4 753.6h0M1663.4 756.2h0M1663.4 758.8h0M1663.4 761.4h0M1663.4 764.0h0M1663.4 766.6h0M1663.3 769.2h0M1663.3 771.8h0M1663.3 774.4h0M1663.3 777.0h0M1663.3 779.6h0M1663.3 782.2h0M1686.9 561.6h0M1686.9 564.2h0M1686.9 566.8h0M1686.9 569.4h0M1686.9 572.0h0M1686.9 574.6h0M1686.9 577.2h0M1686.8 579.8h0M1686.8 582.4h0M1686.8 585.0h0M1686.8 587.6h0M1686.8 590.2h0M1686.8 592.8h0M1686.8 595.4h0M1686.8 598.0h0M1686.8 600.6h0M1686.8 603.2h0M1686.8 605.8h0M1686.8 608.4h0M1686.7 611.0h0M1686.7 613.6h0M1686.7 616.2h0M1686.7 618.8h0M1686.7 621.4h0M1686.7 624.0h0M1686.7 626.6h0M1686.7 629.2h0M1686.7 631.8h0M1686.7 634.4h0M1686.7 637.0h0M1686.6 639.6h0M1686.6 642.2h0M1686.6 644.8h0M1686.6 647.4h0M1686.6 650.0h0M1686.6 652.6h0M1686.6 655.2h0M1686.6 657.8h0M1686.6 660.4h0M1686.6 663.0h0M1686.5 665.6h0M1686.5 668.2h0M1686.5 670.8h0M1686.5 673.4h0M1686.5 676.0h0M1686.5 678.6h0M1686.5 681.2h0M1686.5 683.8h0M1686.5 686.4h0M1686.5 689.0h0M1686.4 691.6h0M1686.4 694.2h0M1686.4 696.8h0M1686.4 699.4h0M1686.4 702.0h0M1686.4 704.6h0M1686.4 707.2h0M1686.4 709.8h0M1686.4 712.4h0M1686.3 715.0h0M1686.3 717.6h0M1686.3 720.2h0M1686.3 722.8h0M1686.3 725.4h0" stroke-width="3.8"/>
<path d="M374.9 1038.6h0M374.9 1034.4h0M374.8 1030.2h0M374.8 1026.0h0M374.7 1021.8h0M374.7 1017.7h0M374.7 1013.5h0M374.6 1009.3h0M374.6 1005.1h0M374.6 1000.9h0M374.5 996.8h0M374.5 992.6h0M374.5 988.4h0M374.4 984.2h0M374.4 980.0h0M374.3 975.9h0M374.3 971.7h0M374.3 967.5h0M374.2 963.3h0M374.2 959.1h0M374.2 955.0h0M374.1 950.8h0M374.1 946.6h0M374.1 942.4h0M374.0 941.5h0M374.8 943.3h0M374.8 945.5h0M374.9 947.7h0M374.9 949.9h0M374.9 952.1h0M375.0 954.3h0M375.0 956.5h0M375.1 958.7h0M375.1 960.9h0M375.1 963.1h0M375.2 965.3h0M375.2 967.5h0M375.3 969.7h0M375.3 971.9h0M375.3 974.1h0M375.4 976.3h0M375.4 978.5h0M375.5 980.7h0M375.5 982.9h0M375.5 985.1h0M375.6 987.3h0M375.6 989.5h0M375.7 991.7h0M375.7 993.9h0M375.8 996.1h0M375.8 998.3h0M375.8 1000.5h0M375.9 1002.7h0M375.9 1004.9h0M376.0 1007.1h0M376.0 1009.3h0M376.0 1011.5h0M376.1 1013.7h0M441.1 1028.6h0M441.1 1024.4h0M441.0 1020.2h0M441.0 1016.0h0M441.0 1011.8h0M440.9 1007.7h0M440.9 1003.5h0M440.9 999.3h0M440.9 995.1h0M440.8 990.9h0M440.8 986.8h0M440.8 982.6h0M440.7 978.4h0M440.7 974.2h0M440.7 970.0h0M440.7 965.9h0M440.6 961.7h0M440.6 957.5h0M440.6 953.3h0M440.5 949.1h0M440.5 945.0h0M440.5 940.8h0M440.5 936.6h0M440.4 932.4h0M440.4 928.2h0M440.4 924.1h0M440.3 919.9h0M440.3 915.7h0M440.3 911.5h0M440.3 907.3h0M440.2 907.0h0M441.0 908.8h0M441.0 911.0h0M441.0 913.2h0M441.1 915.4h0M441.1 917.6h0M441.1 919.8h0M441.2 922.0h0M441.2 924.2h0M441.2 926.4h0M441.2 928.6h0M441.3 930.8h0M441.3 933.0h0M441.3 935.2h0M441.4 937.4h0M441.4 939.6h0M441.4 941.8h0M441.5 944.0h0M441.5 946.2h0M441.5 948.4h0M441.6 950.6h0M441.6 952.8h0M441.6 955.0h0M441.7 957.2h0M441.7 959.4h0M441.7 961.6h0M441.7 963.8h0M441.8 966.0h0M441.8 968.2h0M441.8 970.4h0M441.9 972.6h0M441.9 974.8h0M441.9 977.0h0M442.0 979.2h0M442.0 981.4h0M442.0 983.6h0M442.1 985.8h0M442.1 988.0h0M442.1 990.2h0M442.1 992.4h0M442.2 994.6h0M442.2 996.8h0M442.2 999.0h0M442.3 1001.2h0M508.8 1020.5h0M508.8 1016.3h0M508.8 1012.1h0M508.8 1007.9h0M508.8 1003.7h0M508.8 999.6h0M508.8 995.4h0M508.7 991.2h0M508.7 987.0h0M508.7 982.8h0M508.7 978.7h0M508.7 974.5h0M508.7 970.3h0M508.7 966.1h0M508.7 961.9h0M508.7 957.8h0M508.7 953.6h0M508.7 949.4h0M508.7 945.2h0M508.7 941.0h0M508.6 936.9h0M508.6 932.7h0M508.6 928.5h0M508.6 924.3h0M508.6 920.1h0M508.6 916.0h0M508.6 911.8h0M508.6 907.6h0M508.6 903.4h0M508.6 899.2h0M508.6 895.1h0M508.6 890.9h0M508.6 886.7h0M508.6 882.5h0M508.6 880.9h0M509.3 882.7h0M509.3 884.9h0M509.3 887.1h0M509.3 889.3h0M509.4 891.5h0M509.4 893.7h0M509.4 895.9h0M509.5 898.1h0M509.5 900.3h0M509.5 902.5h0M509.5 904.7h0M509.6 906.9h0M509.6 909.1h0M509.6 911.3h0M509.6 913.5h0M509.7 915.7h0M509.7 917.9h0M509.7 920.1h0M509.7 922.3h0M509.8 924.5h0M509.8 926.7h0M509.8 928.9h0M509.9 931.1h0M509.9 933.3h0M509.9 935.5h0M509.9 937.7h0M510.0 939.9h0M510.0 942.1h0M510.0 944.3h0M510.0 946.5h0M510.1 948.7h0M510.1 950.9h0M510.1 953.1h0M510.1 955.3h0M510.2 957.5h0M510.2 959.7h0M510.2 961.9h0M510.2 964.1h0M510.3 966.3h0M510.3 968.5h0M510.3 970.7h0M510.4 972.9h0M510.4 975.1h0M510.4 977.3h0M510.4 979.5h0M510.5 981.7h0M510.5 983.9h0M510.5 986.1h0M510.5 988.3h0M510.6 990.5h0M510.6 992.7h0M576.7 1011.3h0M576.7 1007.1h0M576.7 1002.9h0M576.7 998.7h0M576.7 994.5h0M576.7 990.4h0M576.7 986.2h0M576.7 982.0h0M576.7 977.8h0M576.7 973.6h0M576.7 969.5h0M576.7 965.3h0M576.7 961.1h0M576.7 956.9h0M576.7 952.7h0M576.6 948.6h0M576.6 944.4h0M576.6 940.2h0M576.6 936.0h0M576.6 931.8h0M576.6 927.7h0M576.6 923.5h0M576.6 919.3h0M576.6 915.1h0M576.6 910.9h0M576.6 906.8h0M576.6 902.6h0M576.6 898.4h0M576.6 894.2h0M576.6 890.0h0M576.5 885.9h0M576.5 881.7h0M576.5 877.5h0M576.5 873.3h0M576.5 869.1h0M576.5 865.0h0M576.5 860.8h0M576.5 856.9h0M577.2 858.7h0M577.2 860.9h0M577.3 863.1h0M577.3 865.3h0M577.3 867.5h0M577.3 869.7h0M577.4 871.9h0M577.4 874.1h0M577.4 876.3h0M577.4 878.5h0M577.4 880.7h0M577.5 882.9h0M577.5 885.1h0M577.5 887.3h0M577.5 889.5h0M577.6 891.7h0M577.6 893.9h0M577.6 896.1h0M577.6 898.3h0M577.7 900.5h0M577.7 902.7h0M577.7 904.9h0M577.7 907.1h0M577.8 909.3h0M577.8 911.5h0M577.8 913.7h0M577.8 915.9h0M577.8 918.1h0M577.9 920.3h0M577.9 922.5h0M577.9 924.7h0M577.9 926.9h0M578.0 929.1h0M578.0 931.3h0M578.0 933.5h0M578.0 935.7h0M578.1 937.9h0M578.1 940.1h0M578.1 942.3h0M578.1 944.5h0M578.2 946.7h0M578.2 948.9h0M578.2 951.1h0M578.2 953.3h0M578.2 955.5h0M578.3 957.7h0M578.3 959.9h0M578.3 962.1h0M578.3 964.3h0M578.4 966.5h0M578.4 968.7h0M578.4 970.9h0M578.4 973.1h0M578.5 975.3h0M578.5 977.5h0M578.5 979.7h0M578.5 981.9h0" stroke-width="3.9"/>
<path d="M938.5 966.2h0M938.5 954.8h0M938.5 943.4h0M938.5 932.0h0M938.5 920.6h0M938.5 909.2h0M938.5 897.8h0M938.4 886.4h0M938.4 875.0h0M938.4 863.6h0M938.4 852.2h0M938.4 840.8h0M938.4 829.4h0M938.4 818.0h0M938.4 806.6h0M938.4 795.2h0M938.4 783.8h0M938.4 772.4h0M938.4 761.0h0M938.4 749.6h0M938.4 744.9h0M938.9 750.7h0M938.9 756.7h0M939.0 762.7h0M939.0 768.7h0M939.1 774.7h0M939.1 780.7h0M939.2 786.7h0M939.2 792.7h0M939.2 798.7h0M939.3 804.7h0M939.3 810.7h0M939.4 816.7h0M939.4 822.7h0M939.5 828.7h0M939.5 834.7h0M939.6 840.7h0M939.6 846.7h0M939.6 852.7h0M939.7 858.7h0M939.7 864.7h0M939.8 870.7h0M939.8 876.7h0M939.9 882.7h0M939.9 888.7h0M940.0 894.7h0M940.0 900.7h0M940.0 906.7h0M940.1 912.7h0M940.1 918.7h0M940.2 924.7h0M940.2 930.7h0M940.3 936.7h0M989.5 959.0h0M989.5 946.4h0M989.5 933.9h0M989.5 921.4h0M989.5 908.8h0M989.5 896.3h0M989.4 883.7h0M989.4 871.2h0M989.4 858.7h0M989.4 846.1h0M989.4 833.6h0M989.4 821.0h0M989.4 808.5h0M989.4 796.0h0M989.4 783.4h0M989.4 770.9h0M989.4 758.3h0M989.4 745.8h0M989.4 733.3h0M989.4 727.6h0M989.9 734.0h0M989.9 740.6h0M990.0 747.2h0M990.0 753.8h0M990.1 760.4h0M990.1 767.0h0M990.2 773.6h0M990.2 780.2h0M990.3 786.8h0M990.3 793.4h0M990.4 800.0h0M990.4 806.6h0M990.5 813.2h0M990.5 819.8h0M990.5 826.4h0M990.6 833.0h0M990.6 839.6h0M990.7 846.2h0M990.7 852.8h0M990.8 859.4h0M990.8 866.0h0M990.9 872.6h0M990.9 879.2h0M991.0 885.8h0M991.0 892.4h0M991.1 899.0h0M991.1 905.6h0M991.1 912.2h0M991.2 918.8h0M991.2 925.4h0M991.3 932.0h0M1038.0 954.1h0M1038.0 940.4h0M1038.0 926.7h0M1038.0 913.0h0M1038.0 899.3h0M1038.0 885.7h0M1037.9 872.0h0M1037.9 858.3h0M1037.9 844.6h0M1037.9 830.9h0M1037.9 817.3h0M1037.9 803.6h0M1037.9 789.9h0M1037.9 776.2h0M1037.9 762.5h0M1037.9 748.9h0M1037.9 735.2h0M1037.9 721.5h0M1037.8 710.8h0M1038.4 717.8h0M1038.4 725.0h0M1038.5 732.2h0M1038.5 739.4h0M1038.6 746.6h0M1038.6 753.8h0M1038.7 761.0h0M1038.7 768.2h0M1038.8 775.4h0M1038.8 782.6h0M1038.9 789.8h0M1038.9 797.0h0M1039.0 804.2h0M1039.0 811.4h0M1039.1 818.6h0M1039.1 825.8h0M1039.2 833.0h0M1039.2 840.2h0M1039.3 847.4h0M1039.3 854.6h0M1039.4 861.8h0M1039.4 869.0h0M1039.5 876.2h0M1039.5 883.4h0M1039.6 890.6h0M1039.6 897.8h0M1039.7 905.0h0M1039.7 912.2h0M1039.8 919.4h0M1084.7 946.1h0M1084.7 931.3h0M1084.7 916.5h0M1084.7 901.7h0M1084.7 886.9h0M1084.7 872.0h0M1084.6 857.2h0M1084.6 842.4h0M1084.6 827.6h0M1084.6 812.8h0M1084.6 797.9h0M1084.6 783.1h0M1084.6 768.3h0M1084.6 753.5h0M1084.6 738.7h0M1084.6 723.8h0M1084.6 709.0h0M1084.6 694.2h0M1084.5 693.4h0M1085.1 701.0h0M1085.1 708.8h0M1085.2 716.6h0M1085.2 724.4h0M1085.3 732.2h0M1085.3 740.0h0M1085.4 747.8h0M1085.4 755.6h0M1085.5 763.4h0M1085.5 771.2h0M1085.6 779.0h0M1085.6 786.8h0M1085.7 794.6h0M1085.7 802.4h0M1085.8 810.2h0M1085.8 818.0h0M1085.9 825.8h0M1085.9 833.6h0M1086.0 841.4h0M1086.0 849.2h0M1086.1 857.0h0M1086.1 864.8h0M1086.2 872.6h0M1086.2 880.4h0M1086.3 888.2h0M1086.4 896.0h0M1086.4 903.8h0M1086.5 911.6h0M1128.8 939.8h0M1128.8 923.9h0M1128.8 907.9h0M1128.8 891.9h0M1128.8 876.0h0M1128.8 860.0h0M1128.7 844.1h0M1128.7 828.1h0M1128.7 812.1h0M1128.7 796.2h0M1128.7 780.2h0M1128.7 764.3h0M1128.7 748.3h0M1128.7 732.3h0M1128.7 716.4h0M1128.7 700.4h0M1128.7 684.5h0M1128.6 676.9h0M1129.2 685.1h0M1129.2 693.5h0M1129.3 701.9h0M1129.4 710.3h0M1129.4 718.7h0M1129.5 727.1h0M1129.5 735.5h0M1129.6 743.9h0M1129.6 752.3h0M1129.7 760.7h0M1129.7 769.1h0M1129.8 777.5h0M1129.8 785.9h0M1129.9 794.3h0M1129.9 802.7h0M1130.0 811.1h0M1130.0 819.5h0M1130.1 827.9h0M1130.1 836.3h0M1130.2 844.7h0M1130.2 853.1h0M1130.3 861.5h0M1130.3 869.9h0M1130.4 878.3h0M1130.5 886.7h0M1130.5 895.1h0M1130.6 903.5h0M1171.0 933.1h0M1171.0 916.0h0M1171.0 898.9h0M1171.0 881.8h0M1171.0 864.7h0M1171.0 847.6h0M1170.9 830.5h0M1170.9 813.4h0M1170.9 796.3h0M1170.9 779.2h0M1170.9 762.1h0M1170.9 745.0h0M1170.9 727.9h0M1170.9 710.8h0M1170.9 693.7h0M1170.9 676.6h0M1170.9 659.5h0M1170.8 656.4h0M1171.4 665.2h0M1171.4 674.2h0M1171.5 683.2h0M1171.5 692.2h0M1171.6 701.2h0M1171.6 710.2h0M1171.6 719.2h0M1171.7 728.2h0M1171.7 737.2h0M1171.8 746.2h0M1171.8 755.2h0M1171.8 764.2h0M1171.9 773.2h0M1171.9 782.2h0M1172.0 791.2h0M1172.0 800.2h0M1172.1 809.2h0M1172.1 818.2h0M1172.1 827.2h0M1172.2 836.2h0M1172.2 845.2h0M1172.3 854.2h0M1172.3 863.2h0M1172.4 872.2h0M1172.4 881.2h0M1172.4 890.2h0M1172.5 899.2h0M1211.3 925.7h0M1211.3 907.4h0M1211.3 889.2h0M1211.3 871.0h0M1211.3 852.7h0M1211.3 834.5h0M1211.2 816.2h0M1211.2 798.0h0M1211.2 779.8h0M1211.2 761.5h0M1211.2 743.3h0M1211.2 725.0h0M1211.2 706.8h0M1211.2 688.6h0M1211.2 670.3h0M1211.2 652.1h0M1211.1 636.4h0M1211.7 645.8h0M1211.7 655.4h0M1211.8 665.0h0M1211.8 674.6h0M1211.9 684.2h0M1211.9 693.8h0M1211.9 703.4h0M1212.0 713.0h0M1212.0 722.6h0M1212.1 732.2h0M1212.1 741.8h0M1212.2 751.4h0M1212.2 761.0h0M1212.2 770.6h0M1212.3 780.2h0M1212.3 789.8h0M1212.4 799.4h0M1212.4 809.0h0M1212.5 818.6h0M1212.5 828.2h0M1212.5 837.8h0M1212.6 847.4h0M1212.6 857.0h0M1212.7 866.6h0M1212.7 876.2h0M1212.8 885.8h0M1212.8 895.4h0M1249.9 919.0h0M1249.9 899.6h0M1249.9 880.2h0M1249.9 860.8h0M1249.9 841.4h0M1249.8 822.1h0M1249.8 802.7h0M1249.8 783.3h0M1249.8 763.9h0M1249.8 744.5h0M1249.8 725.2h0M1249.8 705.8h0M1249.8 686.4h0M1249.8 667.0h0M1249.8 647.6h0M1249.8 628.3h0M1249.8 615.6h0M1250.3 625.6h0M1250.3 635.8h0M1250.4 646.0h0M1250.4 656.2h0M1250.5 666.4h0M1250.5 676.6h0M1250.5 686.8h0M1250.6 697.0h0M1250.6 707.2h0M1250.7 717.4h0M1250.7 727.6h0M1250.8 737.8h0M1250.8 748.0h0M1250.8 758.2h0M1250.9 768.4h0M1250.9 778.6h0M1251.0 788.8h0M1251.0 799.0h0M1251.1 809.2h0M1251.1 819.4h0M1251.2 829.6h0M1251.2 839.8h0M1251.2 850.0h0M1251.3 860.2h0M1251.3 870.4h0M1251.4 880.6h0M1286.8 910.8h0M1286.8 890.3h0M1286.8 869.8h0M1286.8 849.3h0M1286.8 828.8h0M1286.7 808.2h0M1286.7 787.7h0M1286.7 767.2h0M1286.7 746.7h0M1286.7 726.2h0M1286.7 705.6h0M1286.7 685.1h0M1286.7 664.6h0M1286.7 644.1h0M1286.7 623.6h0M1286.7 603.0h0M1286.6 592.4h0M1287.2 603.0h0M1287.2 613.8h0M1287.3 624.6h0M1287.3 635.4h0M1287.4 646.2h0M1287.4 657.0h0M1287.4 667.8h0M1287.5 678.6h0M1287.5 689.4h0M1287.6 700.2h0M1287.6 711.0h0M1287.7 721.8h0M1287.7 732.6h0M1287.8 743.4h0M1287.8 754.2h0M1287.8 765.0h0M1287.9 775.8h0M1287.9 786.6h0M1288.0 797.4h0M1288.0 808.2h0M1288.1 819.0h0M1288.1 829.8h0M1288.1 840.6h0M1288.2 851.4h0M1288.2 862.2h0M1288.3 873.0h0M1322.4 902.5h0M1322.4 879.7h0M1322.4 856.9h0M1322.4 834.1h0M1322.3 811.3h0M1322.3 788.5h0M1322.3 765.7h0M1322.3 742.9h0M1322.3 720.1h0M1322.3 697.3h0M1322.3 674.5h0M1322.2 651.7h0M1322.2 628.9h0M1322.2 606.1h0M1322.2 583.3h0M1322.2 569.7h0M1322.8 581.4h0M1322.9 593.4h0M1322.9 605.4h0M1323.0 617.4h0M1323.0 629.4h0M1323.1 641.4h0M1323.1 653.4h0M1323.1 665.4h0M1323.2 677.4h0M1323.2 689.4h0M1323.3 701.4h0M1323.3 713.4h0M1323.4 725.4h0M1323.4 737.4h0M1323.5 749.4h0M1323.5 761.4h0M1323.5 773.4h0M1323.6 785.4h0M1323.6 797.4h0M1323.7 809.4h0M1323.7 821.4h0M1323.8 833.4h0M1323.8 845.4h0M1323.8 857.4h0M1323.9 869.4h0M1356.5 893.9h0M1356.5 869.6h0M1356.5 845.3h0M1356.5 821.0h0M1356.4 796.7h0M1356.4 772.3h0M1356.4 748.0h0M1356.4 723.7h0M1356.4 699.4h0M1356.4 675.1h0M1356.4 650.7h0M1356.3 626.4h0M1356.3 602.1h0M1356.3 577.8h0M1356.3 553.5h0M1356.3 546.9h0M1356.9 559.4h0M1357.0 572.2h0M1357.0 585.0h0M1357.1 597.8h0M1357.1 610.6h0M1357.2 623.4h0M1357.2 636.2h0M1357.3 649.0h0M1357.3 661.8h0M1357.3 674.6h0M1357.4 687.4h0M1357.4 700.2h0M1357.5 713.0h0M1357.5 725.8h0M1357.6 738.6h0M1357.6 751.4h0M1357.7 764.2h0M1357.7 777.0h0M1357.7 789.8h0M1357.8 802.6h0M1357.8 815.4h0M1357.9 828.2h0M1357.9 841.0h0M1358.0 853.8h0M1389.0 883.9h0M1389.0 858.0h0M1389.0 832.2h0M1389.0 806.4h0M1388.9 780.5h0M1388.9 754.7h0M1388.9 728.8h0M1388.9 703.0h0M1388.9 677.2h0M1388.9 651.3h0M1388.9 625.5h0M1388.8 599.6h0M1388.8 573.8h0M1388.8 548.0h0M1388.8 522.1h0M1388.8 518.5h0M1389.4 531.8h0M1389.5 545.4h0M1389.5 559.0h0M1389.6 572.6h0M1389.6 586.2h0M1389.7 599.8h0M1389.7 613.4h0M1389.8 627.0h0M1389.8 640.6h0M1389.8 654.2h0M1389.9 667.8h0M1389.9 681.4h0M1390.0 695.0h0M1390.0 708.6h0M1390.1 722.2h0M1390.1 735.8h0M1390.2 749.4h0M1390.2 763.0h0M1390.2 776.6h0M1390.3 790.2h0M1390.3 803.8h0M1390.4 817.4h0M1390.4 831.0h0M1390.5 844.6h0M1421.0 874.8h0M1421.0 847.5h0M1421.0 820.1h0M1421.0 792.7h0M1420.9 765.4h0M1420.9 738.0h0M1420.9 710.7h0M1420.9 683.3h0M1420.9 655.9h0M1420.9 628.6h0M1420.9 601.2h0M1420.8 573.9h0M1420.8 546.5h0M1420.8 519.1h0M1420.8 491.8h0M1420.8 487.7h0M1421.4 501.8h0M1421.5 516.2h0M1421.5 530.6h0M1421.6 545.0h0M1421.6 559.4h0M1421.7 573.8h0M1421.7 588.2h0M1421.8 602.6h0M1421.8 617.0h0M1421.8 631.4h0M1421.9 645.8h0M1421.9 660.2h0M1422.0 674.6h0M1422.0 689.0h0M1422.1 703.4h0M1422.1 717.8h0M1422.2 732.2h0M1422.2 746.6h0M1422.2 761.0h0M1422.3 775.4h0M1422.3 789.8h0M1422.4 804.2h0M1422.4 818.6h0M1422.5 833.0h0M1451.0 864.8h0M1451.0 835.9h0M1451.0 807.0h0M1451.0 778.1h0M1450.9 749.2h0M1450.9 720.4h0M1450.9 691.5h0M1450.9 662.6h0M1450.9 633.7h0M1450.9 604.8h0M1450.9 576.0h0M1450.8 547.1h0M1450.8 518.2h0M1450.8 489.3h0M1450.8 460.4h0M1450.8 454.9h0M1451.4 469.8h0M1451.5 485.0h0M1451.5 500.2h0M1451.6 515.4h0M1451.6 530.6h0M1451.7 545.8h0M1451.7 561.0h0M1451.8 576.2h0M1451.8 591.4h0M1451.8 606.6h0M1451.9 621.8h0M1451.9 637.0h0M1452.0 652.2h0M1452.0 667.4h0M1452.1 682.6h0M1452.1 697.8h0M1452.2 713.0h0M1452.2 728.2h0M1452.2 743.4h0M1452.3 758.6h0M1452.3 773.8h0M1452.4 789.0h0M1452.4 804.2h0M1452.5 819.4h0M1480.5 853.5h0M1480.5 823.1h0M1480.5 792.7h0M1480.5 762.3h0M1480.4 731.9h0M1480.4 701.5h0M1480.4 671.1h0M1480.4 640.7h0M1480.4 610.3h0M1480.4 579.9h0M1480.4 549.5h0M1480.3 519.1h0M1480.3 488.7h0M1480.3 458.3h0M1480.3 427.9h0M1480.3 416.9h0M1480.9 432.6h0M1481.0 448.6h0M1481.0 464.6h0M1481.1 480.6h0M1481.1 496.6h0M1481.2 512.6h0M1481.2 528.6h0M1481.2 544.6h0M1481.3 560.6h0M1481.3 576.6h0M1481.4 592.6h0M1481.4 608.6h0M1481.5 624.6h0M1481.5 640.6h0M1481.6 656.6h0M1481.6 672.6h0M1481.6 688.6h0M1481.7 704.6h0M1481.7 720.6h0M1481.8 736.6h0M1481.8 752.6h0M1481.9 768.6h0M1481.9 784.6h0M1482.0 800.6h0M1482.0 816.6h0M1508.5 840.9h0M1508.5 809.0h0M1508.5 777.1h0M1508.5 745.2h0M1508.4 713.3h0M1508.4 681.3h0M1508.4 649.4h0M1508.4 617.5h0M1508.4 585.6h0M1508.4 553.7h0M1508.4 521.7h0M1508.3 489.8h0M1508.3 457.9h0M1508.3 426.0h0M1508.3 394.1h0M1508.3 372.9h0M1508.9 389.4h0M1509.0 406.2h0M1509.0 423.0h0M1509.1 439.8h0M1509.1 456.6h0M1509.2 473.4h0M1509.2 490.2h0M1509.2 507.0h0M1509.3 523.8h0M1509.3 540.6h0M1509.4 557.4h0M1509.4 574.2h0M1509.5 591.0h0M1509.5 607.8h0M1509.5 624.6h0M1509.6 641.4h0M1509.6 658.2h0M1509.7 675.0h0M1509.7 691.8h0M1509.8 708.6h0M1509.8 725.4h0M1509.8 742.2h0M1509.9 759.0h0M1509.9 775.8h0M1510.0 792.6h0M1536.4 827.1h0M1536.4 793.6h0M1536.4 760.2h0M1536.4 726.8h0M1536.3 693.3h0M1536.3 659.9h0M1536.3 626.4h0M1536.3 593.0h0M1536.3 559.6h0M1536.3 526.1h0M1536.3 492.7h0M1536.3 459.2h0M1536.2 425.8h0M1536.2 392.4h0M1536.2 358.9h0M1536.2 325.5h0M1536.2 322.1h0M1536.8 339.4h0M1536.9 357.0h0M1536.9 374.6h0M1537.0 392.2h0M1537.0 409.8h0M1537.0 427.4h0M1537.1 445.0h0M1537.1 462.6h0M1537.2 480.2h0M1537.2 497.8h0M1537.3 515.4h0M1537.3 533.0h0M1537.3 550.6h0M1537.4 568.2h0M1537.4 585.8h0M1537.5 603.4h0M1537.5 621.0h0M1537.5 638.6h0M1537.6 656.2h0M1537.6 673.8h0M1537.7 691.4h0M1537.7 709.0h0M1537.8 726.6h0M1537.8 744.2h0M1537.8 761.8h0M1537.9 779.4h0M1562.8 813.0h0M1562.8 778.1h0M1562.8 743.1h0M1562.8 708.1h0M1562.7 673.2h0M1562.7 638.2h0M1562.7 603.3h0M1562.7 568.3h0M1562.7 533.3h0M1562.7 498.4h0M1562.7 463.4h0M1562.7 428.5h0M1562.6 393.5h0M1562.6 358.5h0M1562.6 323.6h0M1562.6 288.6h0M1562.6 256.9h0M1563.2 275.0h0M1563.3 293.4h0M1563.3 311.8h0M1563.4 330.2h0M1563.4 348.6h0M1563.4 367.0h0M1563.5 385.4h0M1563.5 403.8h0M1563.6 422.2h0M1563.6 440.6h0M1563.6 459.0h0M1563.7 477.4h0M1563.7 495.8h0M1563.8 514.2h0M1563.8 532.6h0M1563.8 551.0h0M1563.9 569.4h0M1563.9 587.8h0M1563.9 606.2h0M1564.0 624.6h0M1564.0 643.0h0M1564.1 661.4h0M1564.1 679.8h0M1564.1 698.2h0M1564.2 716.6h0M1564.2 735.0h0M1564.3 753.4h0M1589.0 796.0h0M1589.0 759.5h0M1589.0 723.0h0M1589.0 686.5h0M1588.9 650.0h0M1588.9 613.6h0M1588.9 577.1h0M1588.9 540.6h0M1588.9 504.1h0M1588.9 467.6h0M1588.9 431.2h0M1588.9 394.7h0M1588.9 358.2h0M1588.8 321.7h0M1588.8 285.2h0M1588.8 248.8h0M1588.8 212.3h0M1588.8 181.7h0M1589.4 200.6h0M1589.5 219.8h0M1589.5 239.0h0M1589.5 258.2h0M1589.6 277.4h0M1589.6 296.6h0M1589.7 315.8h0M1589.7 335.0h0M1589.7 354.2h0M1589.8 373.4h0M1589.8 392.6h0M1589.8 411.8h0M1589.9 431.0h0M1589.9 450.2h0M1590.0 469.4h0M1590.0 488.6h0M1590.0 507.8h0M1590.1 527.0h0M1590.1 546.2h0M1590.1 565.4h0M1590.2 584.6h0M1590.2 603.8h0M1590.3 623.0h0M1590.3 642.2h0M1590.3 661.4h0M1590.4 680.6h0M1590.4 699.8h0M1590.4 719.0h0M1590.5 738.2h0M1614.0 770.7h0M1614.0 721.3h0M1614.0 671.9h0M1614.0 622.5h0M1613.9 573.1h0M1613.9 523.7h0M1613.9 474.3h0M1613.9 424.9h0M1613.9 375.5h0M1613.9 326.1h0M1613.9 276.7h0M1613.8 227.3h0M1613.8 177.9h0M1613.8 128.5h0M1613.8 90.9h0M1614.4 116.6h0M1614.5 142.6h0M1614.5 168.6h0M1614.6 194.6h0M1614.6 220.6h0M1614.7 246.6h0M1614.7 272.6h0M1614.8 298.6h0M1614.8 324.6h0M1614.9 350.6h0M1614.9 376.6h0M1614.9 402.6h0M1615.0 428.6h0M1615.0 454.6h0M1615.1 480.6h0M1615.1 506.6h0M1615.2 532.6h0M1615.2 558.6h0M1615.3 584.6h0M1615.3 610.6h0M1615.4 636.6h0M1615.4 662.6h0M1615.4 688.6h0M1615.5 714.6h0M1638.4 745.5h0M1638.4 694.1h0M1638.4 642.7h0M1638.4 591.3h0M1638.3 540.0h0M1638.3 488.6h0M1638.3 437.2h0M1638.3 385.8h0M1638.3 334.5h0M1638.3 283.1h0M1638.3 231.7h0M1638.2 180.3h0M1638.2 129.0h0M1638.2 77.6h0M1638.2 26.2h0M1638.2 0.9h0M1638.8 27.7h0M1638.9 54.7h0M1638.9 81.7h0M1639.0 108.8h0M1639.0 135.8h0M1639.1 162.9h0M1639.1 189.9h0M1639.1 216.9h0M1639.2 244.0h0M1639.2 271.0h0M1639.3 298.1h0M1639.3 325.1h0M1639.4 352.1h0M1639.4 379.2h0M1639.5 406.2h0M1639.5 433.3h0M1639.5 460.3h0M1639.6 487.3h0M1639.6 514.4h0M1639.7 541.4h0M1639.7 568.5h0M1639.8 595.5h0M1639.8 622.5h0M1639.8 649.6h0M1639.9 676.6h0M1662.2 712.5h0M1662.2 659.2h0M1662.2 605.8h0M1662.2 552.5h0M1662.1 499.1h0M1662.1 445.8h0M1662.1 392.4h0M1662.1 339.1h0M1662.1 285.7h0M1662.1 232.4h0M1662.1 179.0h0M1662.1 125.7h0M1662.0 72.3h0M1662.0 19.0h0M1662.0 -34.4h0M1662.0 -87.7h0M1662.0 -99.1h0M1662.6 -71.3h0M1662.7 -43.2h0M1662.7 -15.1h0M1662.8 12.9h0M1662.8 41.0h0M1662.9 69.1h0M1662.9 97.2h0M1662.9 125.3h0M1663.0 153.3h0M1663.0 181.4h0M1663.1 209.5h0M1663.1 237.6h0M1663.1 265.7h0M1663.2 293.7h0M1663.2 321.8h0M1663.3 349.9h0M1663.3 378.0h0M1663.4 406.1h0M1663.4 434.1h0M1663.4 462.2h0M1663.5 490.3h0M1663.5 518.4h0M1663.6 546.5h0M1663.6 574.5h0M1663.7 602.6h0M1663.7 630.7h0M1685.4 664.6h0M1685.4 609.3h0M1685.4 554.0h0M1685.4 498.6h0M1685.3 443.3h0M1685.3 388.0h0M1685.3 332.6h0M1685.3 277.3h0M1685.3 222.0h0M1685.3 166.7h0M1685.3 111.3h0M1685.3 56.0h0M1685.2 0.7h0M1685.2 -54.6h0M1685.2 -110.0h0M1685.2 -165.3h0M1685.2 -199.1h0M1685.8 -170.3h0M1685.9 -141.1h0M1685.9 -112.0h0M1686.0 -82.9h0M1686.0 -53.8h0M1686.1 -24.7h0M1686.1 4.5h0M1686.1 33.6h0M1686.2 62.7h0M1686.2 91.8h0M1686.3 120.9h0M1686.3 150.1h0M1686.3 179.2h0M1686.4 208.3h0M1686.4 237.4h0M1686.5 266.5h0M1686.5 295.7h0M1686.6 324.8h0M1686.6 353.9h0M1686.6 383.0h0M1686.7 412.1h0M1686.7 441.3h0M1686.8 470.4h0M1686.8 499.5h0M1686.9 528.6h0M1686.9 557.7h0" stroke-width="4.0"/>
<path d="M643.8 1001.5h0M643.7 990.1h0M643.7 978.7h0M643.7 967.3h0M643.6 955.9h0M643.6 944.5h0M643.6 933.1h0M643.5 921.7h0M643.5 910.3h0M643.5 898.9h0M643.4 887.5h0M643.4 876.1h0M643.3 864.7h0M643.3 853.3h0M643.3 841.9h0M643.2 835.5h0M644.6 840.6h0M644.6 846.6h0M644.7 852.6h0M644.7 858.6h0M644.8 864.6h0M644.8 870.6h0M644.9 876.6h0M644.9 882.6h0M644.9 888.6h0M645.0 894.6h0M645.0 900.6h0M645.1 906.6h0M645.1 912.6h0M645.1 914.1h0M645.2 917.1h0M645.2 920.1h0M645.2 923.1h0M645.2 926.1h0M645.2 929.1h0M645.3 932.1h0M645.3 935.1h0M645.3 938.1h0M645.3 941.1h0M645.4 944.1h0M645.4 947.1h0M645.4 950.1h0M645.4 953.1h0M645.4 956.1h0M645.5 959.1h0M645.5 962.1h0M645.5 965.1h0M645.5 968.1h0M645.6 971.1h0M645.6 974.1h0M707.6 993.4h0M707.6 981.4h0M707.5 969.5h0M707.5 957.5h0M707.4 945.5h0M707.4 933.5h0M707.4 921.6h0M707.3 909.6h0M707.3 897.6h0M707.3 885.7h0M707.2 873.7h0M707.2 861.7h0M707.2 849.8h0M707.1 837.8h0M707.1 825.8h0M707.1 816.5h0M708.4 821.9h0M708.4 828.2h0M708.5 834.5h0M708.5 840.8h0M708.6 847.1h0M708.6 853.4h0M708.6 859.7h0M708.7 866.0h0M708.7 872.3h0M708.8 878.6h0M708.8 884.9h0M708.9 891.2h0M708.9 897.5h0M708.9 901.5h0M709.0 904.6h0M709.0 907.8h0M709.0 910.9h0M709.0 914.1h0M709.0 917.2h0M709.1 920.4h0M709.1 923.5h0M709.1 926.7h0M709.1 929.8h0M709.2 933.0h0M709.2 936.1h0M709.2 939.3h0M709.2 942.4h0M709.2 945.6h0M709.3 948.7h0M709.3 951.9h0M709.3 955.0h0M709.3 958.2h0M709.3 961.3h0M709.4 964.5h0M709.4 967.6h0M769.5 985.8h0M769.5 973.2h0M769.4 960.7h0M769.4 948.2h0M769.3 935.6h0M769.3 923.1h0M769.3 910.5h0M769.2 898.0h0M769.2 885.5h0M769.2 872.9h0M769.1 860.4h0M769.1 847.8h0M769.1 835.3h0M769.0 822.8h0M769.0 810.2h0M769.0 797.9h0M770.3 803.6h0M770.3 810.2h0M770.4 816.8h0M770.4 823.4h0M770.5 830.0h0M770.5 836.6h0M770.5 843.2h0M770.6 849.8h0M770.6 856.4h0M770.7 863.0h0M770.7 869.6h0M770.8 876.2h0M770.8 882.8h0M770.8 888.9h0M770.9 892.2h0M770.9 895.5h0M770.9 898.8h0M770.9 902.1h0M770.9 905.4h0M771.0 908.7h0M771.0 912.0h0M771.0 915.3h0M771.0 918.6h0M771.0 921.9h0M771.1 925.2h0M771.1 928.5h0M771.1 931.8h0M771.1 935.1h0M771.2 938.4h0M771.2 941.7h0M771.2 945.0h0M771.2 948.3h0M771.2 951.6h0M771.3 954.9h0M771.3 958.2h0M828.6 979.0h0M828.6 965.9h0M828.5 952.8h0M828.5 939.6h0M828.4 926.5h0M828.4 913.4h0M828.4 900.3h0M828.3 887.2h0M828.3 874.1h0M828.3 861.0h0M828.2 847.9h0M828.2 834.8h0M828.2 821.7h0M828.1 808.5h0M828.1 795.4h0M828.1 782.3h0M828.1 780.5h0M829.4 786.5h0M829.4 793.4h0M829.5 800.3h0M829.5 807.2h0M829.6 814.1h0M829.6 821.0h0M829.6 827.9h0M829.7 834.8h0M829.7 841.7h0M829.8 848.6h0M829.8 855.5h0M829.8 862.4h0M829.9 869.3h0M829.9 877.1h0M830.0 880.6h0M830.0 884.0h0M830.0 887.5h0M830.0 890.9h0M830.0 894.4h0M830.1 897.8h0M830.1 901.3h0M830.1 904.7h0M830.1 908.2h0M830.1 911.6h0M830.2 915.1h0M830.2 918.5h0M830.2 922.0h0M830.2 925.4h0M830.2 928.9h0M830.3 932.3h0M830.3 935.8h0M830.3 939.2h0M830.3 942.7h0M830.4 946.1h0M830.4 949.6h0M830.4 953.0h0M884.6 971.8h0M884.6 958.1h0M884.5 944.4h0M884.5 930.7h0M884.4 917.0h0M884.4 903.4h0M884.4 889.7h0M884.3 876.0h0M884.3 862.3h0M884.3 848.6h0M884.2 835.0h0M884.2 821.3h0M884.2 807.6h0M884.1 793.9h0M884.1 780.2h0M884.1 766.6h0M884.1 762.5h0M885.4 768.8h0M885.4 776.0h0M885.5 783.2h0M885.5 790.4h0M885.5 797.6h0M885.6 804.8h0M885.6 812.0h0M885.7 819.2h0M885.7 826.4h0M885.8 833.6h0M885.8 840.8h0M885.8 848.0h0M885.9 855.2h0M885.9 862.4h0M885.9 865.4h0M886.0 869.0h0M886.0 872.6h0M886.0 876.2h0M886.0 879.8h0M886.0 883.4h0M886.1 887.0h0M886.1 890.6h0M886.1 894.2h0M886.1 897.8h0M886.1 901.4h0M886.2 905.0h0M886.2 908.6h0M886.2 912.2h0M886.2 915.8h0M886.2 919.4h0M886.3 923.0h0M886.3 926.6h0M886.3 930.2h0M886.3 933.8h0M886.3 937.4h0M886.4 941.0h0M886.4 944.6h0M1708.0 404.0h0M1708.0 380.0h0M1708.0 356.0h0M1708.0 332.0h0M1708.0 308.0h0M1708.0 284.0h0M1708.0 260.0h0M1708.0 236.0h0M1708.0 212.0h0M1708.0 188.0h0M1708.0 164.0h0M1708.0 140.0h0M1729.5 124.0h0M1729.5 137.0h0M1729.5 150.0h0M1729.5 163.0h0M1729.5 176.0h0M1729.5 189.0h0M1729.5 202.0h0M1729.5 215.0h0M1729.5 228.0h0M1729.5 241.0h0M1729.5 254.0h0M1729.5 267.0h0M1729.5 280.0h0M1729.5 293.0h0M1729.5 306.0h0M1729.5 319.0h0M1729.5 332.0h0M1729.5 345.0h0M1729.5 358.0h0M1729.5 371.0h0M1729.5 384.0h0M1729.5 397.0h0M1729.5 400.5h0M1729.5 423.0h0M1729.5 428.0h0M1729.5 432.5h0M1729.5 437.0h0M1730.3 752.3h0M1730.0 951.3h0" stroke-width="4.4"/>
</g>
<rect x="250.5" y="144.5" width="1550" height="924" fill="none" stroke="#000" stroke-width="1.1"/>
<path d="M267.19 1068.5v11.0M345.13 1068.5v11.0M423.06 1068.5v11.0M501.00 1068.5v16.9M578.94 1068.5v11.0M656.88 1068.5v11.0M734.81 1068.5v11.0M812.75 1068.5v16.9M890.69 1068.5v11.0M968.63 1068.5v11.0M1046.56 1068.5v11.0M1124.50 1068.5v16.9M1202.44 1068.5v11.0M1280.38 1068.5v11.0M1358.31 1068.5v11.0M1436.25 1068.5v16.9M1514.19 1068.5v11.0M1592.13 1068.5v11.0M1670.06 1068.5v11.0M1748.00 1068.5v16.9M250.5 1058.50h-11.5M250.5 1010.37h-11.5M250.5 962.24h-11.5M250.5 914.10h-17.6M250.5 865.97h-11.5M250.5 817.84h-11.5M250.5 769.71h-11.5M250.5 721.58h-17.6M250.5 673.45h-11.5M250.5 625.32h-11.5M250.5 577.18h-11.5M250.5 529.05h-17.6M250.5 480.92h-11.5M250.5 432.79h-11.5M250.5 384.66h-11.5M250.5 336.53h-17.6M250.5 288.39h-11.5M250.5 240.26h-11.5M250.5 192.13h-11.5M250.5 144.00h-17.6" stroke="#000" stroke-width="5.9" fill="none"/>
<text x="500.8" y="1117.8" font-size="36.46" text-anchor="middle" textLength="101.4" lengthAdjust="spacingAndGlyphs">372.0</text>
<text x="812.5" y="1117.8" font-size="36.46" text-anchor="middle" textLength="101.4" lengthAdjust="spacingAndGlyphs">372.2</text>
<text x="1124.3" y="1117.8" font-size="36.46" text-anchor="middle" textLength="101.4" lengthAdjust="spacingAndGlyphs">372.4</text>
<text x="1436.1" y="1117.8" font-size="36.46" text-anchor="middle" textLength="101.4" lengthAdjust="spacingAndGlyphs">372.6</text>
<text x="1747.8" y="1117.8" font-size="36.46" text-anchor="middle" textLength="101.4" lengthAdjust="spacingAndGlyphs">372.8</text>
<text x="227.4" y="928.4" font-size="36.46" text-anchor="end" textLength="68.3" lengthAdjust="spacingAndGlyphs">200</text>
<text x="227.4" y="735.9" font-size="36.46" text-anchor="end" textLength="68.3" lengthAdjust="spacingAndGlyphs">400</text>
<text x="227.4" y="543.4" font-size="36.46" text-anchor="end" textLength="68.3" lengthAdjust="spacingAndGlyphs">600</text>
<text x="227.4" y="350.8" font-size="36.46" text-anchor="end" textLength="68.3" lengthAdjust="spacingAndGlyphs">800</text>
<text x="227.4" y="158.3" font-size="36.46" text-anchor="end" textLength="91.0" lengthAdjust="spacingAndGlyphs">1000</text>
<text x="1025.0" y="1171.5" font-size="58.34" text-anchor="middle" textLength="272.1" lengthAdjust="spacingAndGlyphs">Age (Myr)</text>
<text x="118.4" y="606.0" font-size="58.34" text-anchor="middle" textLength="466.7" lengthAdjust="spacingAndGlyphs" transform="rotate(-90 118.4 606.0)">FM period (days)</text>
<text x="386.3" y="946.5" font-size="16.59" text-anchor="start" textLength="33.3" lengthAdjust="spacingAndGlyphs" transform="rotate(-80 386.3 946.5)">n=1</text>
<text x="452.5" y="911.3" font-size="16.59" text-anchor="start" textLength="33.3" lengthAdjust="spacingAndGlyphs" transform="rotate(-80 452.5 911.3)">n=2</text>
<text x="520.9" y="884.7" font-size="16.59" text-anchor="start" textLength="33.3" lengthAdjust="spacingAndGlyphs" transform="rotate(-80 520.9 884.7)">n=3</text>
<text x="588.9" y="860.7" font-size="16.59" text-anchor="start" textLength="33.3" lengthAdjust="spacingAndGlyphs" transform="rotate(-80 588.9 860.7)">n=4</text>
<text x="655.9" y="839.3" font-size="16.59" text-anchor="start" textLength="33.3" lengthAdjust="spacingAndGlyphs" transform="rotate(-80 655.9 839.3)">n=5</text>
<text x="719.7" y="820.3" font-size="16.59" text-anchor="start" textLength="33.3" lengthAdjust="spacingAndGlyphs" transform="rotate(-80 719.7 820.3)">n=6</text>
<text x="781.6" y="801.7" font-size="16.59" text-anchor="start" textLength="33.3" lengthAdjust="spacingAndGlyphs" transform="rotate(-80 781.6 801.7)">n=7</text>
<text x="840.7" y="784.3" font-size="16.59" text-anchor="start" textLength="33.3" lengthAdjust="spacingAndGlyphs" transform="rotate(-80 840.7 784.3)">n=8</text>
<text x="896.7" y="766.3" font-size="16.59" text-anchor="start" textLength="33.3" lengthAdjust="spacingAndGlyphs" transform="rotate(-80 896.7 766.3)">n=9</text>
<text x="949.8" y="748.9" font-size="16.59" text-anchor="start" textLength="43.4" lengthAdjust="spacingAndGlyphs" transform="rotate(-80 949.8 748.9)">n=10</text>
<text x="1000.8" y="731.6" font-size="16.59" text-anchor="start" textLength="43.4" lengthAdjust="spacingAndGlyphs" transform="rotate(-80 1000.8 731.6)">n=11</text>
<text x="1049.3" y="714.8" font-size="16.59" text-anchor="start" textLength="43.4" lengthAdjust="spacingAndGlyphs" transform="rotate(-80 1049.3 714.8)">n=12</text>
<text x="1096.0" y="697.4" font-size="16.59" text-anchor="start" textLength="43.4" lengthAdjust="spacingAndGlyphs" transform="rotate(-80 1096.0 697.4)">n=13</text>
<text x="1140.1" y="680.9" font-size="16.59" text-anchor="start" textLength="43.4" lengthAdjust="spacingAndGlyphs" transform="rotate(-80 1140.1 680.9)">n=14</text>
<text x="1182.3" y="660.4" font-size="16.59" text-anchor="start" textLength="43.4" lengthAdjust="spacingAndGlyphs" transform="rotate(-80 1182.3 660.4)">n=15</text>
<text x="1222.6" y="640.4" font-size="16.59" text-anchor="start" textLength="43.4" lengthAdjust="spacingAndGlyphs" transform="rotate(-80 1222.6 640.4)">n=16</text>
<text x="1261.2" y="619.6" font-size="16.59" text-anchor="start" textLength="43.4" lengthAdjust="spacingAndGlyphs" transform="rotate(-80 1261.2 619.6)">n=17</text>
<text x="1298.1" y="596.4" font-size="16.59" text-anchor="start" textLength="43.4" lengthAdjust="spacingAndGlyphs" transform="rotate(-80 1298.1 596.4)">n=18</text>
<text x="1333.7" y="573.7" font-size="16.59" text-anchor="start" textLength="43.4" lengthAdjust="spacingAndGlyphs" transform="rotate(-80 1333.7 573.7)">n=19</text>
<text x="1367.8" y="550.9" font-size="16.59" text-anchor="start" textLength="43.4" lengthAdjust="spacingAndGlyphs" transform="rotate(-80 1367.8 550.9)">n=20</text>
<text x="1400.3" y="522.5" font-size="16.59" text-anchor="start" textLength="43.4" lengthAdjust="spacingAndGlyphs" transform="rotate(-80 1400.3 522.5)">n=21</text>
<text x="1432.3" y="491.7" font-size="16.59" text-anchor="start" textLength="43.4" lengthAdjust="spacingAndGlyphs" transform="rotate(-80 1432.3 491.7)">n=22</text>
<text x="1462.3" y="458.9" font-size="16.59" text-anchor="start" textLength="43.4" lengthAdjust="spacingAndGlyphs" transform="rotate(-80 1462.3 458.9)">n=23</text>
<text x="1491.8" y="420.9" font-size="16.59" text-anchor="start" textLength="43.4" lengthAdjust="spacingAndGlyphs" transform="rotate(-80 1491.8 420.9)">n=24</text>
<text x="1519.8" y="376.9" font-size="16.59" text-anchor="start" textLength="43.4" lengthAdjust="spacingAndGlyphs" transform="rotate(-80 1519.8 376.9)">n=25</text>
<text x="1547.7" y="326.1" font-size="16.59" text-anchor="start" textLength="43.4" lengthAdjust="spacingAndGlyphs" transform="rotate(-80 1547.7 326.1)">n=26</text>
<text x="1574.1" y="260.9" font-size="16.59" text-anchor="start" textLength="43.4" lengthAdjust="spacingAndGlyphs" transform="rotate(-80 1574.1 260.9)">n=27</text>
<text x="1600.3" y="185.7" font-size="16.59" text-anchor="start" textLength="43.4" lengthAdjust="spacingAndGlyphs" transform="rotate(-80 1600.3 185.7)">n=28</text>
<rect x="263.5" y="157.3" width="369.3" height="108.9" rx="4" ry="4" fill="#fff" fill-opacity="0.8" stroke="#ccc" stroke-opacity="0.8" stroke-width="1.4"/>
<path d="M272 177.2h52" stroke="#000" stroke-width="2.1" fill="none"/><circle cx="298.2" cy="177.2" r="2.2"/>
<circle cx="298.5" cy="231.5" r="7.0" fill="#fdfdc6" stroke="#ffffae" stroke-width="1.4"/>
<text x="342.3" y="186.0" font-size="26.25" text-anchor="start" textLength="193.1" lengthAdjust="spacingAndGlyphs">m2.40_z0.0005</text>
<text x="342.0" y="223.0" font-size="26.25" text-anchor="start" textLength="278.5" lengthAdjust="spacingAndGlyphs">intersection w/ P,L,T,R</text>
<text x="343.0" y="250.5" font-size="26.25" text-anchor="start" textLength="189.7" lengthAdjust="spacingAndGlyphs">loosely defined</text>
</svg>
</body></html>
